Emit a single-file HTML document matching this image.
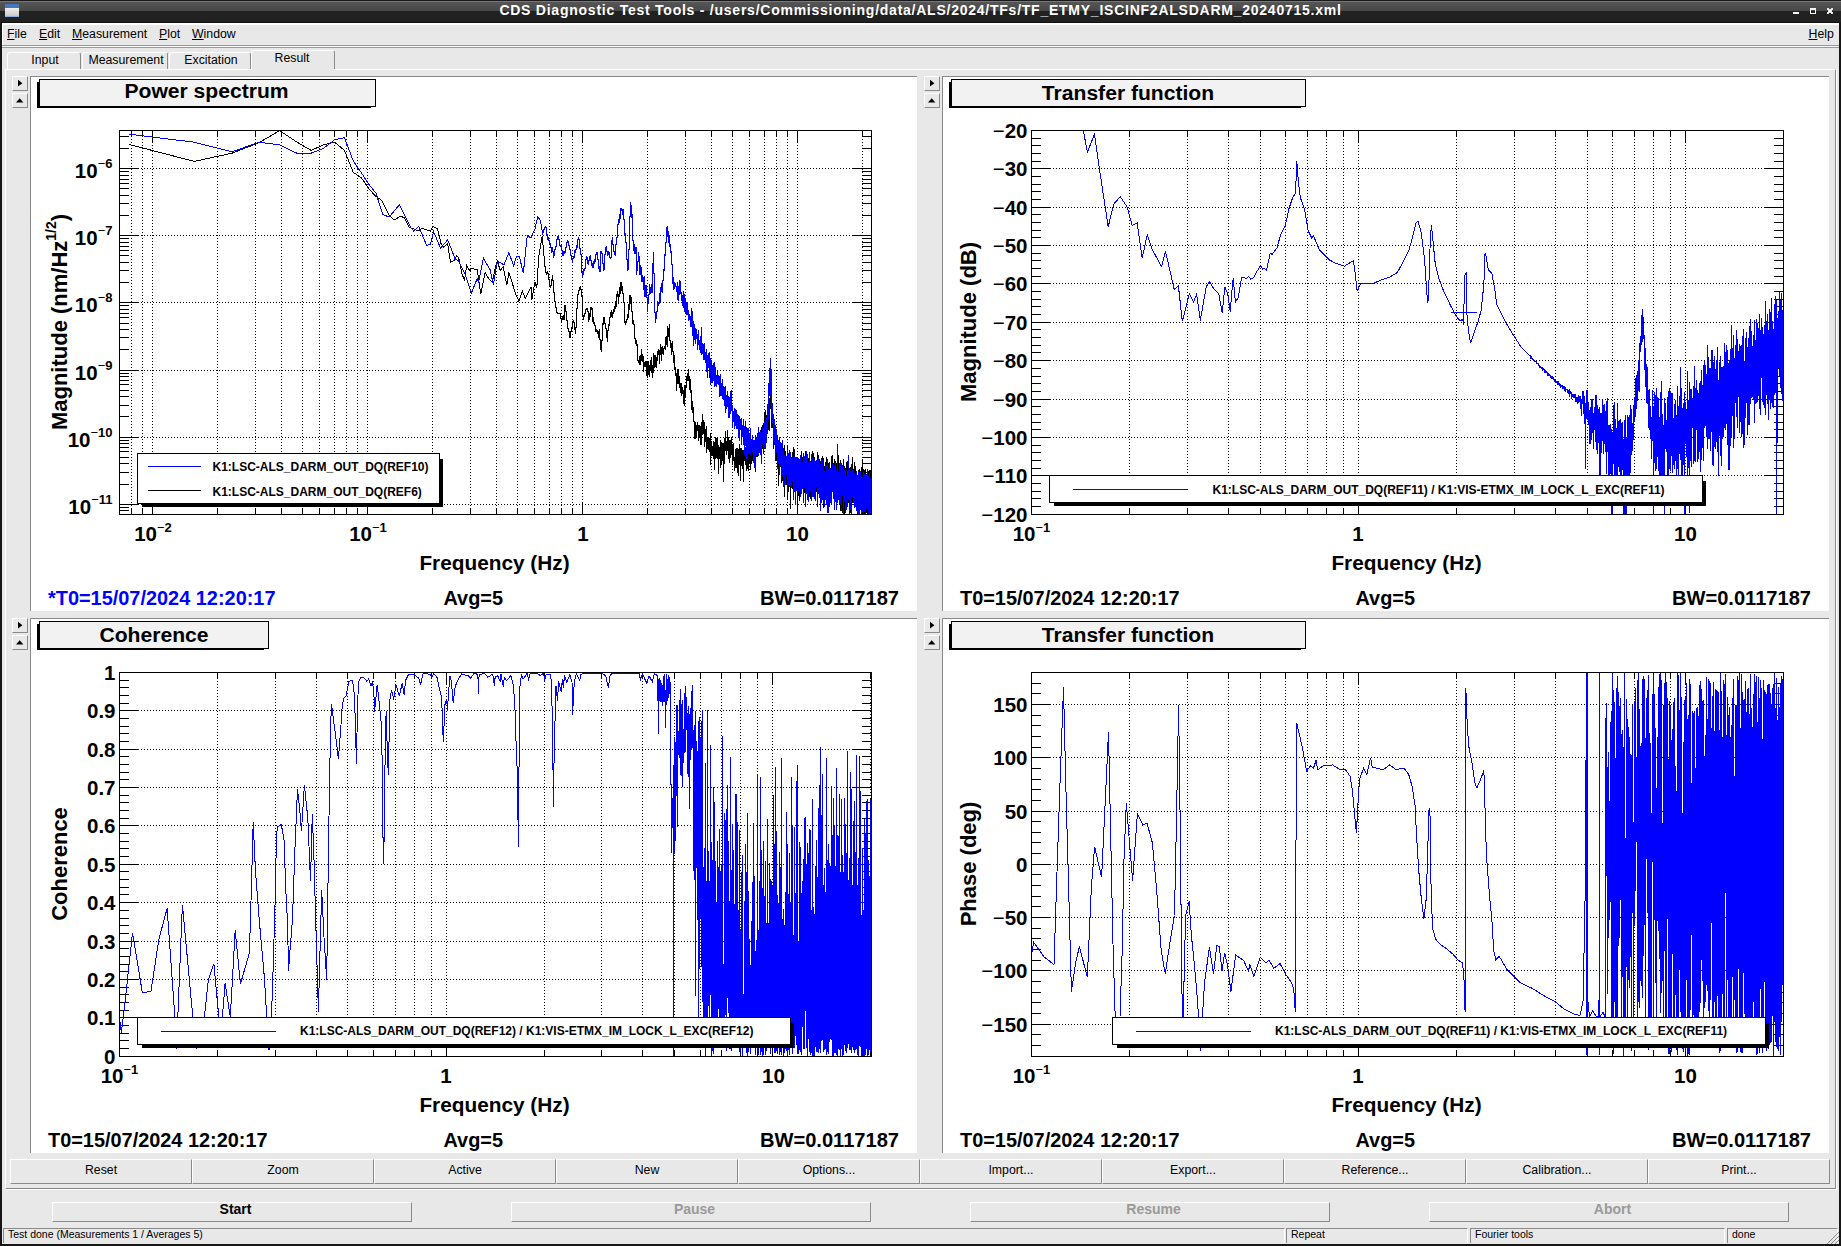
<!DOCTYPE html>
<html><head><meta charset="utf-8"><title>CDS Diagnostic Test Tools</title>
<style>
html,body{margin:0;padding:0;}
body{width:1841px;height:1246px;background:#e8e8e8;position:relative;overflow:hidden;font-family:"Liberation Sans",sans-serif;font-size:12px;color:#000;}
.abs{position:absolute;}
#titlebar{left:0;top:0;width:1841px;height:23px;background:linear-gradient(#1a1a1a 0px,#1a1a1a 1px,#777 1px,#777 2px,#565656 2px,#474747 11px,#212121 11px,#212121 22px,#111 22px,#111 23px);}
#title{left:0;top:2px;width:1841px;text-align:center;color:#fff;font-weight:bold;font-size:14px;letter-spacing:0.757px;white-space:nowrap;}
.menu{top:26.5px;font-size:12.3px;white-space:nowrap;}
.menu u{text-decoration:underline;}
.tab{top:52px;height:17px;font-size:12.3px;text-align:center;line-height:14px;padding-left:2px;border-top:1px solid #fff;border-left:1px solid #fff;border-right:1px solid #8a8a8a;box-sizing:border-box;border-radius:3px 3px 0 0;}
.sbtn{width:16px;height:15px;box-sizing:border-box;border-top:1px solid #fff;border-left:1px solid #fff;border-right:1px solid #8a8a8a;border-bottom:1px solid #8a8a8a;background:#e8e8e8;}
.canvas{background:#fff;border-top:1px solid #8a8a8a;border-left:1px solid #8a8a8a;}
.btn{box-sizing:border-box;border-top:1px solid #fff;border-left:1px solid #fff;border-right:1px solid #8a8a8a;border-bottom:1px solid #8a8a8a;text-align:center;font-size:12.3px;white-space:nowrap;}
.stat{top:1228px;height:15px;box-sizing:border-box;border-top:1px solid #8a8a8a;border-left:1px solid #8a8a8a;border-right:1px solid #fff;font-size:10.5px;line-height:10px;padding-left:4px;white-space:nowrap;}
svg text{font-family:"Liberation Sans",sans-serif;font-weight:bold;}
</style></head><body>

<div class="abs" id="titlebar"></div>
<div class="abs" id="title">CDS Diagnostic Test Tools - /users/Commissioning/data/ALS/2024/TFs/TF_ETMY_ISCINF2ALSDARM_20240715.xml</div>
<div class="abs" style="left:5px;top:4px;width:14px;height:13px;background:linear-gradient(#4577bd 0,#4577bd 4px,#f0f0ee 4px,#c9c9c7 12px,#8fb0e0 12px,#8fb0e0 13px);border:0"></div>
<svg class="abs" style="left:1740px;top:0" width="100" height="22"><g fill="#f4f4f4"><rect x="53" y="12" width="6" height="2"/><path d="M70 8h6v6h-6z M71 10v3h4v-3z" fill-rule="evenodd"/><path d="M87 9l1-1 2 2 2-2 1 1-2 2 2 2-1 1-2-2-2 2-1-1 2-2z" stroke="#f4f4f4" stroke-width="0.8"/></g></svg>
<div class="abs" style="left:2px;top:23px;width:1837px;height:2px;background:#fff"></div>
<div class="abs" style="left:2px;top:23px;width:1px;height:22px;background:#fff"></div>
<div class="abs" style="left:0;top:22px;width:2px;height:1224px;background:#161616"></div>
<div class="abs" style="left:1839px;top:22px;width:2px;height:1224px;background:#161616"></div>
<div class="abs" style="left:0;top:1244px;width:1841px;height:2px;background:#161616"></div>
<div class="abs menu" style="left:7px"><u>F</u>ile</div>
<div class="abs menu" style="left:39px"><u>E</u>dit</div>
<div class="abs menu" style="left:72px"><u>M</u>easurement</div>
<div class="abs menu" style="left:159px"><u>P</u>lot</div>
<div class="abs menu" style="left:192px"><u>W</u>indow</div>
<div class="abs menu" style="left:1808.5px"><u>H</u>elp</div>
<div class="abs" style="left:2px;top:45px;width:1837px;height:1px;background:#999"></div>
<div class="abs" style="left:2px;top:46px;width:1837px;height:1px;background:#f6f6f6"></div>
<div class="abs" style="left:2px;top:47px;width:1837px;height:1px;background:#9a9a9a"></div>
<div class="abs tab" style="left:7px;width:74px">Input</div>
<div class="abs tab" style="left:82px;width:86px">Measurement</div>
<div class="abs tab" style="left:169px;width:82px">Excitation</div>
<div class="abs tab" style="left:251px;width:84px;top:50px;height:20px;line-height:15px;padding-left:0;padding-right:2px">Result</div>
<div class="abs" style="left:5px;top:69px;width:1831px;height:1120px;box-sizing:border-box;border-top:1px solid #fff;border-left:1px solid #fff;border-right:1px solid #8a8a8a;border-bottom:1px solid #8a8a8a"></div>
<div class="abs" style="left:252px;top:69px;width:82px;height:1px;background:#e8e8e8"></div>
<div class="abs" style="left:1836px;top:69px;width:1px;height:1121px;background:#fff"></div>
<div class="abs" style="left:5px;top:1189px;width:1832px;height:1px;background:#fff"></div>
<div class="abs canvas" style="left:30px;top:76px;width:886px;height:534px"></div>
<div class="abs sbtn" style="left:12px;top:76px"><svg width="14" height="13" style="position:absolute;left:0;top:0"><path d="M5 2.8v6.8l4.4-3.4z" fill="#000"/></svg></div>
<div class="abs sbtn" style="left:12px;top:93px"><svg width="14" height="13" style="position:absolute;left:0;top:0"><path d="M3 8.6h7.4l-3.7-4.4z" fill="#000"/></svg></div>
<div class="abs canvas" style="left:942px;top:76px;width:886px;height:534px"></div>
<div class="abs sbtn" style="left:924px;top:76px"><svg width="14" height="13" style="position:absolute;left:0;top:0"><path d="M5 2.8v6.8l4.4-3.4z" fill="#000"/></svg></div>
<div class="abs sbtn" style="left:924px;top:93px"><svg width="14" height="13" style="position:absolute;left:0;top:0"><path d="M3 8.6h7.4l-3.7-4.4z" fill="#000"/></svg></div>
<div class="abs canvas" style="left:30px;top:618px;width:886px;height:534px"></div>
<div class="abs sbtn" style="left:12px;top:618px"><svg width="14" height="13" style="position:absolute;left:0;top:0"><path d="M5 2.8v6.8l4.4-3.4z" fill="#000"/></svg></div>
<div class="abs sbtn" style="left:12px;top:635px"><svg width="14" height="13" style="position:absolute;left:0;top:0"><path d="M3 8.6h7.4l-3.7-4.4z" fill="#000"/></svg></div>
<div class="abs canvas" style="left:942px;top:618px;width:886px;height:534px"></div>
<div class="abs sbtn" style="left:924px;top:618px"><svg width="14" height="13" style="position:absolute;left:0;top:0"><path d="M5 2.8v6.8l4.4-3.4z" fill="#000"/></svg></div>
<div class="abs sbtn" style="left:924px;top:635px"><svg width="14" height="13" style="position:absolute;left:0;top:0"><path d="M3 8.6h7.4l-3.7-4.4z" fill="#000"/></svg></div>
<div class="abs btn" style="left:10px;top:1159px;width:182px;height:25px;line-height:20px">Reset</div>
<div class="abs btn" style="left:192px;top:1159px;width:182px;height:25px;line-height:20px">Zoom</div>
<div class="abs btn" style="left:374px;top:1159px;width:182px;height:25px;line-height:20px">Active</div>
<div class="abs btn" style="left:556px;top:1159px;width:182px;height:25px;line-height:20px">New</div>
<div class="abs btn" style="left:738px;top:1159px;width:182px;height:25px;line-height:20px">Options...</div>
<div class="abs btn" style="left:920px;top:1159px;width:182px;height:25px;line-height:20px">Import...</div>
<div class="abs btn" style="left:1102px;top:1159px;width:182px;height:25px;line-height:20px">Export...</div>
<div class="abs btn" style="left:1284px;top:1159px;width:182px;height:25px;line-height:20px">Reference...</div>
<div class="abs btn" style="left:1466px;top:1159px;width:182px;height:25px;line-height:20px">Calibration...</div>
<div class="abs btn" style="left:1648px;top:1159px;width:182px;height:25px;line-height:20px">Print...</div>
<div class="abs btn" style="left:52px;top:1202px;width:360px;height:20px;line-height:13px;font-weight:bold;font-size:14px;padding-left:7px;color:#000">Start</div>
<div class="abs btn" style="left:511px;top:1202px;width:360px;height:20px;line-height:13px;font-weight:bold;font-size:14px;padding-left:7px;color:#9a9a9a">Pause</div>
<div class="abs btn" style="left:970px;top:1202px;width:360px;height:20px;line-height:13px;font-weight:bold;font-size:14px;padding-left:7px;color:#9a9a9a">Resume</div>
<div class="abs btn" style="left:1429px;top:1202px;width:360px;height:20px;line-height:13px;font-weight:bold;font-size:14px;padding-left:7px;color:#9a9a9a">Abort</div>
<div class="abs stat" style="left:3px;width:1282px">Test done (Measurements 1 / Averages 5)</div>
<div class="abs stat" style="left:1286px;width:182px">Repeat</div>
<div class="abs stat" style="left:1470px;width:255px">Fourier tools</div>
<div class="abs stat" style="left:1727px;width:111px">done</div>
<svg class="abs" style="left:1826px;top:1231px" width="13" height="13"><g stroke="#8a8a8a" stroke-width="1"><path d="M1 13L13 1M5 13L13 5M9 13L13 9"/></g></svg>
<svg class="abs" style="left:0;top:0" width="1841" height="1246" viewBox="0 0 1841 1246">
<line x1="131.5" y1="130" x2="131.5" y2="514" stroke="#000" stroke-width="1" shape-rendering="crispEdges" stroke-dasharray="1 2"/>
<line x1="131.5" y1="508" x2="131.5" y2="514" stroke="#000" stroke-width="1" shape-rendering="crispEdges"/>
<line x1="131.5" y1="130" x2="131.5" y2="137" stroke="#000" stroke-width="1" shape-rendering="crispEdges"/>
<line x1="142.5" y1="130" x2="142.5" y2="514" stroke="#000" stroke-width="1" shape-rendering="crispEdges" stroke-dasharray="1 2"/>
<line x1="142.5" y1="508" x2="142.5" y2="514" stroke="#000" stroke-width="1" shape-rendering="crispEdges"/>
<line x1="142.5" y1="130" x2="142.5" y2="137" stroke="#000" stroke-width="1" shape-rendering="crispEdges"/>
<line x1="152.5" y1="130" x2="152.5" y2="514" stroke="#000" stroke-width="1" shape-rendering="crispEdges" stroke-dasharray="1 2"/>
<line x1="152.5" y1="502" x2="152.5" y2="514" stroke="#000" stroke-width="1" shape-rendering="crispEdges"/>
<line x1="152.5" y1="130" x2="152.5" y2="143" stroke="#000" stroke-width="1" shape-rendering="crispEdges"/>
<line x1="217.5" y1="130" x2="217.5" y2="514" stroke="#000" stroke-width="1" shape-rendering="crispEdges" stroke-dasharray="1 2"/>
<line x1="217.5" y1="508" x2="217.5" y2="514" stroke="#000" stroke-width="1" shape-rendering="crispEdges"/>
<line x1="217.5" y1="130" x2="217.5" y2="137" stroke="#000" stroke-width="1" shape-rendering="crispEdges"/>
<line x1="255.5" y1="130" x2="255.5" y2="514" stroke="#000" stroke-width="1" shape-rendering="crispEdges" stroke-dasharray="1 2"/>
<line x1="255.5" y1="508" x2="255.5" y2="514" stroke="#000" stroke-width="1" shape-rendering="crispEdges"/>
<line x1="255.5" y1="130" x2="255.5" y2="137" stroke="#000" stroke-width="1" shape-rendering="crispEdges"/>
<line x1="281.5" y1="130" x2="281.5" y2="514" stroke="#000" stroke-width="1" shape-rendering="crispEdges" stroke-dasharray="1 2"/>
<line x1="281.5" y1="508" x2="281.5" y2="514" stroke="#000" stroke-width="1" shape-rendering="crispEdges"/>
<line x1="281.5" y1="130" x2="281.5" y2="137" stroke="#000" stroke-width="1" shape-rendering="crispEdges"/>
<line x1="302.5" y1="130" x2="302.5" y2="514" stroke="#000" stroke-width="1" shape-rendering="crispEdges" stroke-dasharray="1 2"/>
<line x1="302.5" y1="508" x2="302.5" y2="514" stroke="#000" stroke-width="1" shape-rendering="crispEdges"/>
<line x1="302.5" y1="130" x2="302.5" y2="137" stroke="#000" stroke-width="1" shape-rendering="crispEdges"/>
<line x1="319.5" y1="130" x2="319.5" y2="514" stroke="#000" stroke-width="1" shape-rendering="crispEdges" stroke-dasharray="1 2"/>
<line x1="319.5" y1="508" x2="319.5" y2="514" stroke="#000" stroke-width="1" shape-rendering="crispEdges"/>
<line x1="319.5" y1="130" x2="319.5" y2="137" stroke="#000" stroke-width="1" shape-rendering="crispEdges"/>
<line x1="334.5" y1="130" x2="334.5" y2="514" stroke="#000" stroke-width="1" shape-rendering="crispEdges" stroke-dasharray="1 2"/>
<line x1="334.5" y1="508" x2="334.5" y2="514" stroke="#000" stroke-width="1" shape-rendering="crispEdges"/>
<line x1="334.5" y1="130" x2="334.5" y2="137" stroke="#000" stroke-width="1" shape-rendering="crispEdges"/>
<line x1="346.5" y1="130" x2="346.5" y2="514" stroke="#000" stroke-width="1" shape-rendering="crispEdges" stroke-dasharray="1 2"/>
<line x1="346.5" y1="508" x2="346.5" y2="514" stroke="#000" stroke-width="1" shape-rendering="crispEdges"/>
<line x1="346.5" y1="130" x2="346.5" y2="137" stroke="#000" stroke-width="1" shape-rendering="crispEdges"/>
<line x1="357.5" y1="130" x2="357.5" y2="514" stroke="#000" stroke-width="1" shape-rendering="crispEdges" stroke-dasharray="1 2"/>
<line x1="357.5" y1="508" x2="357.5" y2="514" stroke="#000" stroke-width="1" shape-rendering="crispEdges"/>
<line x1="357.5" y1="130" x2="357.5" y2="137" stroke="#000" stroke-width="1" shape-rendering="crispEdges"/>
<line x1="367.5" y1="130" x2="367.5" y2="514" stroke="#000" stroke-width="1" shape-rendering="crispEdges" stroke-dasharray="1 2"/>
<line x1="367.5" y1="502" x2="367.5" y2="514" stroke="#000" stroke-width="1" shape-rendering="crispEdges"/>
<line x1="367.5" y1="130" x2="367.5" y2="143" stroke="#000" stroke-width="1" shape-rendering="crispEdges"/>
<line x1="432.5" y1="130" x2="432.5" y2="514" stroke="#000" stroke-width="1" shape-rendering="crispEdges" stroke-dasharray="1 2"/>
<line x1="432.5" y1="508" x2="432.5" y2="514" stroke="#000" stroke-width="1" shape-rendering="crispEdges"/>
<line x1="432.5" y1="130" x2="432.5" y2="137" stroke="#000" stroke-width="1" shape-rendering="crispEdges"/>
<line x1="470.5" y1="130" x2="470.5" y2="514" stroke="#000" stroke-width="1" shape-rendering="crispEdges" stroke-dasharray="1 2"/>
<line x1="470.5" y1="508" x2="470.5" y2="514" stroke="#000" stroke-width="1" shape-rendering="crispEdges"/>
<line x1="470.5" y1="130" x2="470.5" y2="137" stroke="#000" stroke-width="1" shape-rendering="crispEdges"/>
<line x1="496.5" y1="130" x2="496.5" y2="514" stroke="#000" stroke-width="1" shape-rendering="crispEdges" stroke-dasharray="1 2"/>
<line x1="496.5" y1="508" x2="496.5" y2="514" stroke="#000" stroke-width="1" shape-rendering="crispEdges"/>
<line x1="496.5" y1="130" x2="496.5" y2="137" stroke="#000" stroke-width="1" shape-rendering="crispEdges"/>
<line x1="517.5" y1="130" x2="517.5" y2="514" stroke="#000" stroke-width="1" shape-rendering="crispEdges" stroke-dasharray="1 2"/>
<line x1="517.5" y1="508" x2="517.5" y2="514" stroke="#000" stroke-width="1" shape-rendering="crispEdges"/>
<line x1="517.5" y1="130" x2="517.5" y2="137" stroke="#000" stroke-width="1" shape-rendering="crispEdges"/>
<line x1="534.5" y1="130" x2="534.5" y2="514" stroke="#000" stroke-width="1" shape-rendering="crispEdges" stroke-dasharray="1 2"/>
<line x1="534.5" y1="508" x2="534.5" y2="514" stroke="#000" stroke-width="1" shape-rendering="crispEdges"/>
<line x1="534.5" y1="130" x2="534.5" y2="137" stroke="#000" stroke-width="1" shape-rendering="crispEdges"/>
<line x1="549.5" y1="130" x2="549.5" y2="514" stroke="#000" stroke-width="1" shape-rendering="crispEdges" stroke-dasharray="1 2"/>
<line x1="549.5" y1="508" x2="549.5" y2="514" stroke="#000" stroke-width="1" shape-rendering="crispEdges"/>
<line x1="549.5" y1="130" x2="549.5" y2="137" stroke="#000" stroke-width="1" shape-rendering="crispEdges"/>
<line x1="561.5" y1="130" x2="561.5" y2="514" stroke="#000" stroke-width="1" shape-rendering="crispEdges" stroke-dasharray="1 2"/>
<line x1="561.5" y1="508" x2="561.5" y2="514" stroke="#000" stroke-width="1" shape-rendering="crispEdges"/>
<line x1="561.5" y1="130" x2="561.5" y2="137" stroke="#000" stroke-width="1" shape-rendering="crispEdges"/>
<line x1="572.5" y1="130" x2="572.5" y2="514" stroke="#000" stroke-width="1" shape-rendering="crispEdges" stroke-dasharray="1 2"/>
<line x1="572.5" y1="508" x2="572.5" y2="514" stroke="#000" stroke-width="1" shape-rendering="crispEdges"/>
<line x1="572.5" y1="130" x2="572.5" y2="137" stroke="#000" stroke-width="1" shape-rendering="crispEdges"/>
<line x1="582.5" y1="130" x2="582.5" y2="514" stroke="#000" stroke-width="1" shape-rendering="crispEdges" stroke-dasharray="1 2"/>
<line x1="582.5" y1="502" x2="582.5" y2="514" stroke="#000" stroke-width="1" shape-rendering="crispEdges"/>
<line x1="582.5" y1="130" x2="582.5" y2="143" stroke="#000" stroke-width="1" shape-rendering="crispEdges"/>
<line x1="647.5" y1="130" x2="647.5" y2="514" stroke="#000" stroke-width="1" shape-rendering="crispEdges" stroke-dasharray="1 2"/>
<line x1="647.5" y1="508" x2="647.5" y2="514" stroke="#000" stroke-width="1" shape-rendering="crispEdges"/>
<line x1="647.5" y1="130" x2="647.5" y2="137" stroke="#000" stroke-width="1" shape-rendering="crispEdges"/>
<line x1="685.5" y1="130" x2="685.5" y2="514" stroke="#000" stroke-width="1" shape-rendering="crispEdges" stroke-dasharray="1 2"/>
<line x1="685.5" y1="508" x2="685.5" y2="514" stroke="#000" stroke-width="1" shape-rendering="crispEdges"/>
<line x1="685.5" y1="130" x2="685.5" y2="137" stroke="#000" stroke-width="1" shape-rendering="crispEdges"/>
<line x1="711.5" y1="130" x2="711.5" y2="514" stroke="#000" stroke-width="1" shape-rendering="crispEdges" stroke-dasharray="1 2"/>
<line x1="711.5" y1="508" x2="711.5" y2="514" stroke="#000" stroke-width="1" shape-rendering="crispEdges"/>
<line x1="711.5" y1="130" x2="711.5" y2="137" stroke="#000" stroke-width="1" shape-rendering="crispEdges"/>
<line x1="732.5" y1="130" x2="732.5" y2="514" stroke="#000" stroke-width="1" shape-rendering="crispEdges" stroke-dasharray="1 2"/>
<line x1="732.5" y1="508" x2="732.5" y2="514" stroke="#000" stroke-width="1" shape-rendering="crispEdges"/>
<line x1="732.5" y1="130" x2="732.5" y2="137" stroke="#000" stroke-width="1" shape-rendering="crispEdges"/>
<line x1="749.5" y1="130" x2="749.5" y2="514" stroke="#000" stroke-width="1" shape-rendering="crispEdges" stroke-dasharray="1 2"/>
<line x1="749.5" y1="508" x2="749.5" y2="514" stroke="#000" stroke-width="1" shape-rendering="crispEdges"/>
<line x1="749.5" y1="130" x2="749.5" y2="137" stroke="#000" stroke-width="1" shape-rendering="crispEdges"/>
<line x1="764.5" y1="130" x2="764.5" y2="514" stroke="#000" stroke-width="1" shape-rendering="crispEdges" stroke-dasharray="1 2"/>
<line x1="764.5" y1="508" x2="764.5" y2="514" stroke="#000" stroke-width="1" shape-rendering="crispEdges"/>
<line x1="764.5" y1="130" x2="764.5" y2="137" stroke="#000" stroke-width="1" shape-rendering="crispEdges"/>
<line x1="776.5" y1="130" x2="776.5" y2="514" stroke="#000" stroke-width="1" shape-rendering="crispEdges" stroke-dasharray="1 2"/>
<line x1="776.5" y1="508" x2="776.5" y2="514" stroke="#000" stroke-width="1" shape-rendering="crispEdges"/>
<line x1="776.5" y1="130" x2="776.5" y2="137" stroke="#000" stroke-width="1" shape-rendering="crispEdges"/>
<line x1="787.5" y1="130" x2="787.5" y2="514" stroke="#000" stroke-width="1" shape-rendering="crispEdges" stroke-dasharray="1 2"/>
<line x1="787.5" y1="508" x2="787.5" y2="514" stroke="#000" stroke-width="1" shape-rendering="crispEdges"/>
<line x1="787.5" y1="130" x2="787.5" y2="137" stroke="#000" stroke-width="1" shape-rendering="crispEdges"/>
<line x1="797.5" y1="130" x2="797.5" y2="514" stroke="#000" stroke-width="1" shape-rendering="crispEdges" stroke-dasharray="1 2"/>
<line x1="797.5" y1="502" x2="797.5" y2="514" stroke="#000" stroke-width="1" shape-rendering="crispEdges"/>
<line x1="797.5" y1="130" x2="797.5" y2="143" stroke="#000" stroke-width="1" shape-rendering="crispEdges"/>
<line x1="862.5" y1="130" x2="862.5" y2="514" stroke="#000" stroke-width="1" shape-rendering="crispEdges" stroke-dasharray="1 2"/>
<line x1="862.5" y1="508" x2="862.5" y2="514" stroke="#000" stroke-width="1" shape-rendering="crispEdges"/>
<line x1="862.5" y1="130" x2="862.5" y2="137" stroke="#000" stroke-width="1" shape-rendering="crispEdges"/>
<line x1="119" y1="510.5" x2="129" y2="510.5" stroke="#000" stroke-width="1" shape-rendering="crispEdges"/>
<line x1="862" y1="510.5" x2="871" y2="510.5" stroke="#000" stroke-width="1" shape-rendering="crispEdges"/>
<line x1="119" y1="507.5" x2="129" y2="507.5" stroke="#000" stroke-width="1" shape-rendering="crispEdges"/>
<line x1="862" y1="507.5" x2="871" y2="507.5" stroke="#000" stroke-width="1" shape-rendering="crispEdges"/>
<line x1="120" y1="504.5" x2="871" y2="504.5" stroke="#000" stroke-width="1" shape-rendering="crispEdges" stroke-dasharray="1 2"/>
<line x1="119" y1="504.5" x2="139" y2="504.5" stroke="#000" stroke-width="1" shape-rendering="crispEdges"/>
<line x1="852" y1="504.5" x2="871" y2="504.5" stroke="#000" stroke-width="1" shape-rendering="crispEdges"/>
<line x1="119" y1="484.5" x2="129" y2="484.5" stroke="#000" stroke-width="1" shape-rendering="crispEdges"/>
<line x1="862" y1="484.5" x2="871" y2="484.5" stroke="#000" stroke-width="1" shape-rendering="crispEdges"/>
<line x1="119" y1="472.5" x2="129" y2="472.5" stroke="#000" stroke-width="1" shape-rendering="crispEdges"/>
<line x1="862" y1="472.5" x2="871" y2="472.5" stroke="#000" stroke-width="1" shape-rendering="crispEdges"/>
<line x1="119" y1="463.5" x2="129" y2="463.5" stroke="#000" stroke-width="1" shape-rendering="crispEdges"/>
<line x1="862" y1="463.5" x2="871" y2="463.5" stroke="#000" stroke-width="1" shape-rendering="crispEdges"/>
<line x1="119" y1="457.5" x2="129" y2="457.5" stroke="#000" stroke-width="1" shape-rendering="crispEdges"/>
<line x1="862" y1="457.5" x2="871" y2="457.5" stroke="#000" stroke-width="1" shape-rendering="crispEdges"/>
<line x1="119" y1="451.5" x2="129" y2="451.5" stroke="#000" stroke-width="1" shape-rendering="crispEdges"/>
<line x1="862" y1="451.5" x2="871" y2="451.5" stroke="#000" stroke-width="1" shape-rendering="crispEdges"/>
<line x1="119" y1="447.5" x2="129" y2="447.5" stroke="#000" stroke-width="1" shape-rendering="crispEdges"/>
<line x1="862" y1="447.5" x2="871" y2="447.5" stroke="#000" stroke-width="1" shape-rendering="crispEdges"/>
<line x1="119" y1="443.5" x2="129" y2="443.5" stroke="#000" stroke-width="1" shape-rendering="crispEdges"/>
<line x1="862" y1="443.5" x2="871" y2="443.5" stroke="#000" stroke-width="1" shape-rendering="crispEdges"/>
<line x1="119" y1="440.5" x2="129" y2="440.5" stroke="#000" stroke-width="1" shape-rendering="crispEdges"/>
<line x1="862" y1="440.5" x2="871" y2="440.5" stroke="#000" stroke-width="1" shape-rendering="crispEdges"/>
<line x1="120" y1="437.5" x2="871" y2="437.5" stroke="#000" stroke-width="1" shape-rendering="crispEdges" stroke-dasharray="1 2"/>
<line x1="119" y1="437.5" x2="139" y2="437.5" stroke="#000" stroke-width="1" shape-rendering="crispEdges"/>
<line x1="852" y1="437.5" x2="871" y2="437.5" stroke="#000" stroke-width="1" shape-rendering="crispEdges"/>
<line x1="119" y1="416.5" x2="129" y2="416.5" stroke="#000" stroke-width="1" shape-rendering="crispEdges"/>
<line x1="862" y1="416.5" x2="871" y2="416.5" stroke="#000" stroke-width="1" shape-rendering="crispEdges"/>
<line x1="119" y1="405.5" x2="129" y2="405.5" stroke="#000" stroke-width="1" shape-rendering="crispEdges"/>
<line x1="862" y1="405.5" x2="871" y2="405.5" stroke="#000" stroke-width="1" shape-rendering="crispEdges"/>
<line x1="119" y1="396.5" x2="129" y2="396.5" stroke="#000" stroke-width="1" shape-rendering="crispEdges"/>
<line x1="862" y1="396.5" x2="871" y2="396.5" stroke="#000" stroke-width="1" shape-rendering="crispEdges"/>
<line x1="119" y1="390.5" x2="129" y2="390.5" stroke="#000" stroke-width="1" shape-rendering="crispEdges"/>
<line x1="862" y1="390.5" x2="871" y2="390.5" stroke="#000" stroke-width="1" shape-rendering="crispEdges"/>
<line x1="119" y1="384.5" x2="129" y2="384.5" stroke="#000" stroke-width="1" shape-rendering="crispEdges"/>
<line x1="862" y1="384.5" x2="871" y2="384.5" stroke="#000" stroke-width="1" shape-rendering="crispEdges"/>
<line x1="119" y1="380.5" x2="129" y2="380.5" stroke="#000" stroke-width="1" shape-rendering="crispEdges"/>
<line x1="862" y1="380.5" x2="871" y2="380.5" stroke="#000" stroke-width="1" shape-rendering="crispEdges"/>
<line x1="119" y1="376.5" x2="129" y2="376.5" stroke="#000" stroke-width="1" shape-rendering="crispEdges"/>
<line x1="862" y1="376.5" x2="871" y2="376.5" stroke="#000" stroke-width="1" shape-rendering="crispEdges"/>
<line x1="119" y1="373.5" x2="129" y2="373.5" stroke="#000" stroke-width="1" shape-rendering="crispEdges"/>
<line x1="862" y1="373.5" x2="871" y2="373.5" stroke="#000" stroke-width="1" shape-rendering="crispEdges"/>
<line x1="120" y1="370.5" x2="871" y2="370.5" stroke="#000" stroke-width="1" shape-rendering="crispEdges" stroke-dasharray="1 2"/>
<line x1="119" y1="370.5" x2="139" y2="370.5" stroke="#000" stroke-width="1" shape-rendering="crispEdges"/>
<line x1="852" y1="370.5" x2="871" y2="370.5" stroke="#000" stroke-width="1" shape-rendering="crispEdges"/>
<line x1="119" y1="349.5" x2="129" y2="349.5" stroke="#000" stroke-width="1" shape-rendering="crispEdges"/>
<line x1="862" y1="349.5" x2="871" y2="349.5" stroke="#000" stroke-width="1" shape-rendering="crispEdges"/>
<line x1="119" y1="337.5" x2="129" y2="337.5" stroke="#000" stroke-width="1" shape-rendering="crispEdges"/>
<line x1="862" y1="337.5" x2="871" y2="337.5" stroke="#000" stroke-width="1" shape-rendering="crispEdges"/>
<line x1="119" y1="329.5" x2="129" y2="329.5" stroke="#000" stroke-width="1" shape-rendering="crispEdges"/>
<line x1="862" y1="329.5" x2="871" y2="329.5" stroke="#000" stroke-width="1" shape-rendering="crispEdges"/>
<line x1="119" y1="323.5" x2="129" y2="323.5" stroke="#000" stroke-width="1" shape-rendering="crispEdges"/>
<line x1="862" y1="323.5" x2="871" y2="323.5" stroke="#000" stroke-width="1" shape-rendering="crispEdges"/>
<line x1="119" y1="317.5" x2="129" y2="317.5" stroke="#000" stroke-width="1" shape-rendering="crispEdges"/>
<line x1="862" y1="317.5" x2="871" y2="317.5" stroke="#000" stroke-width="1" shape-rendering="crispEdges"/>
<line x1="119" y1="313.5" x2="129" y2="313.5" stroke="#000" stroke-width="1" shape-rendering="crispEdges"/>
<line x1="862" y1="313.5" x2="871" y2="313.5" stroke="#000" stroke-width="1" shape-rendering="crispEdges"/>
<line x1="119" y1="309.5" x2="129" y2="309.5" stroke="#000" stroke-width="1" shape-rendering="crispEdges"/>
<line x1="862" y1="309.5" x2="871" y2="309.5" stroke="#000" stroke-width="1" shape-rendering="crispEdges"/>
<line x1="119" y1="305.5" x2="129" y2="305.5" stroke="#000" stroke-width="1" shape-rendering="crispEdges"/>
<line x1="862" y1="305.5" x2="871" y2="305.5" stroke="#000" stroke-width="1" shape-rendering="crispEdges"/>
<line x1="120" y1="302.5" x2="871" y2="302.5" stroke="#000" stroke-width="1" shape-rendering="crispEdges" stroke-dasharray="1 2"/>
<line x1="119" y1="302.5" x2="139" y2="302.5" stroke="#000" stroke-width="1" shape-rendering="crispEdges"/>
<line x1="852" y1="302.5" x2="871" y2="302.5" stroke="#000" stroke-width="1" shape-rendering="crispEdges"/>
<line x1="119" y1="282.5" x2="129" y2="282.5" stroke="#000" stroke-width="1" shape-rendering="crispEdges"/>
<line x1="862" y1="282.5" x2="871" y2="282.5" stroke="#000" stroke-width="1" shape-rendering="crispEdges"/>
<line x1="119" y1="270.5" x2="129" y2="270.5" stroke="#000" stroke-width="1" shape-rendering="crispEdges"/>
<line x1="862" y1="270.5" x2="871" y2="270.5" stroke="#000" stroke-width="1" shape-rendering="crispEdges"/>
<line x1="119" y1="262.5" x2="129" y2="262.5" stroke="#000" stroke-width="1" shape-rendering="crispEdges"/>
<line x1="862" y1="262.5" x2="871" y2="262.5" stroke="#000" stroke-width="1" shape-rendering="crispEdges"/>
<line x1="119" y1="255.5" x2="129" y2="255.5" stroke="#000" stroke-width="1" shape-rendering="crispEdges"/>
<line x1="862" y1="255.5" x2="871" y2="255.5" stroke="#000" stroke-width="1" shape-rendering="crispEdges"/>
<line x1="119" y1="250.5" x2="129" y2="250.5" stroke="#000" stroke-width="1" shape-rendering="crispEdges"/>
<line x1="862" y1="250.5" x2="871" y2="250.5" stroke="#000" stroke-width="1" shape-rendering="crispEdges"/>
<line x1="119" y1="246.5" x2="129" y2="246.5" stroke="#000" stroke-width="1" shape-rendering="crispEdges"/>
<line x1="862" y1="246.5" x2="871" y2="246.5" stroke="#000" stroke-width="1" shape-rendering="crispEdges"/>
<line x1="119" y1="242.5" x2="129" y2="242.5" stroke="#000" stroke-width="1" shape-rendering="crispEdges"/>
<line x1="862" y1="242.5" x2="871" y2="242.5" stroke="#000" stroke-width="1" shape-rendering="crispEdges"/>
<line x1="119" y1="238.5" x2="129" y2="238.5" stroke="#000" stroke-width="1" shape-rendering="crispEdges"/>
<line x1="862" y1="238.5" x2="871" y2="238.5" stroke="#000" stroke-width="1" shape-rendering="crispEdges"/>
<line x1="120" y1="235.5" x2="871" y2="235.5" stroke="#000" stroke-width="1" shape-rendering="crispEdges" stroke-dasharray="1 2"/>
<line x1="119" y1="235.5" x2="139" y2="235.5" stroke="#000" stroke-width="1" shape-rendering="crispEdges"/>
<line x1="852" y1="235.5" x2="871" y2="235.5" stroke="#000" stroke-width="1" shape-rendering="crispEdges"/>
<line x1="119" y1="215.5" x2="129" y2="215.5" stroke="#000" stroke-width="1" shape-rendering="crispEdges"/>
<line x1="862" y1="215.5" x2="871" y2="215.5" stroke="#000" stroke-width="1" shape-rendering="crispEdges"/>
<line x1="119" y1="203.5" x2="129" y2="203.5" stroke="#000" stroke-width="1" shape-rendering="crispEdges"/>
<line x1="862" y1="203.5" x2="871" y2="203.5" stroke="#000" stroke-width="1" shape-rendering="crispEdges"/>
<line x1="119" y1="195.5" x2="129" y2="195.5" stroke="#000" stroke-width="1" shape-rendering="crispEdges"/>
<line x1="862" y1="195.5" x2="871" y2="195.5" stroke="#000" stroke-width="1" shape-rendering="crispEdges"/>
<line x1="119" y1="188.5" x2="129" y2="188.5" stroke="#000" stroke-width="1" shape-rendering="crispEdges"/>
<line x1="862" y1="188.5" x2="871" y2="188.5" stroke="#000" stroke-width="1" shape-rendering="crispEdges"/>
<line x1="119" y1="183.5" x2="129" y2="183.5" stroke="#000" stroke-width="1" shape-rendering="crispEdges"/>
<line x1="862" y1="183.5" x2="871" y2="183.5" stroke="#000" stroke-width="1" shape-rendering="crispEdges"/>
<line x1="119" y1="179.5" x2="129" y2="179.5" stroke="#000" stroke-width="1" shape-rendering="crispEdges"/>
<line x1="862" y1="179.5" x2="871" y2="179.5" stroke="#000" stroke-width="1" shape-rendering="crispEdges"/>
<line x1="119" y1="175.5" x2="129" y2="175.5" stroke="#000" stroke-width="1" shape-rendering="crispEdges"/>
<line x1="862" y1="175.5" x2="871" y2="175.5" stroke="#000" stroke-width="1" shape-rendering="crispEdges"/>
<line x1="119" y1="171.5" x2="129" y2="171.5" stroke="#000" stroke-width="1" shape-rendering="crispEdges"/>
<line x1="862" y1="171.5" x2="871" y2="171.5" stroke="#000" stroke-width="1" shape-rendering="crispEdges"/>
<line x1="120" y1="168.5" x2="871" y2="168.5" stroke="#000" stroke-width="1" shape-rendering="crispEdges" stroke-dasharray="1 2"/>
<line x1="119" y1="168.5" x2="139" y2="168.5" stroke="#000" stroke-width="1" shape-rendering="crispEdges"/>
<line x1="852" y1="168.5" x2="871" y2="168.5" stroke="#000" stroke-width="1" shape-rendering="crispEdges"/>
<line x1="119" y1="148.5" x2="129" y2="148.5" stroke="#000" stroke-width="1" shape-rendering="crispEdges"/>
<line x1="862" y1="148.5" x2="871" y2="148.5" stroke="#000" stroke-width="1" shape-rendering="crispEdges"/>
<line x1="119" y1="136.5" x2="129" y2="136.5" stroke="#000" stroke-width="1" shape-rendering="crispEdges"/>
<line x1="862" y1="136.5" x2="871" y2="136.5" stroke="#000" stroke-width="1" shape-rendering="crispEdges"/>
<line x1="1129.5" y1="130" x2="1129.5" y2="514" stroke="#000" stroke-width="1" shape-rendering="crispEdges" stroke-dasharray="1 2"/>
<line x1="1129.5" y1="508" x2="1129.5" y2="514" stroke="#000" stroke-width="1" shape-rendering="crispEdges"/>
<line x1="1129.5" y1="130" x2="1129.5" y2="137" stroke="#000" stroke-width="1" shape-rendering="crispEdges"/>
<line x1="1187.5" y1="130" x2="1187.5" y2="514" stroke="#000" stroke-width="1" shape-rendering="crispEdges" stroke-dasharray="1 2"/>
<line x1="1187.5" y1="508" x2="1187.5" y2="514" stroke="#000" stroke-width="1" shape-rendering="crispEdges"/>
<line x1="1187.5" y1="130" x2="1187.5" y2="137" stroke="#000" stroke-width="1" shape-rendering="crispEdges"/>
<line x1="1228.5" y1="130" x2="1228.5" y2="514" stroke="#000" stroke-width="1" shape-rendering="crispEdges" stroke-dasharray="1 2"/>
<line x1="1228.5" y1="508" x2="1228.5" y2="514" stroke="#000" stroke-width="1" shape-rendering="crispEdges"/>
<line x1="1228.5" y1="130" x2="1228.5" y2="137" stroke="#000" stroke-width="1" shape-rendering="crispEdges"/>
<line x1="1260.5" y1="130" x2="1260.5" y2="514" stroke="#000" stroke-width="1" shape-rendering="crispEdges" stroke-dasharray="1 2"/>
<line x1="1260.5" y1="508" x2="1260.5" y2="514" stroke="#000" stroke-width="1" shape-rendering="crispEdges"/>
<line x1="1260.5" y1="130" x2="1260.5" y2="137" stroke="#000" stroke-width="1" shape-rendering="crispEdges"/>
<line x1="1285.5" y1="130" x2="1285.5" y2="514" stroke="#000" stroke-width="1" shape-rendering="crispEdges" stroke-dasharray="1 2"/>
<line x1="1285.5" y1="508" x2="1285.5" y2="514" stroke="#000" stroke-width="1" shape-rendering="crispEdges"/>
<line x1="1285.5" y1="130" x2="1285.5" y2="137" stroke="#000" stroke-width="1" shape-rendering="crispEdges"/>
<line x1="1307.5" y1="130" x2="1307.5" y2="514" stroke="#000" stroke-width="1" shape-rendering="crispEdges" stroke-dasharray="1 2"/>
<line x1="1307.5" y1="508" x2="1307.5" y2="514" stroke="#000" stroke-width="1" shape-rendering="crispEdges"/>
<line x1="1307.5" y1="130" x2="1307.5" y2="137" stroke="#000" stroke-width="1" shape-rendering="crispEdges"/>
<line x1="1326.5" y1="130" x2="1326.5" y2="514" stroke="#000" stroke-width="1" shape-rendering="crispEdges" stroke-dasharray="1 2"/>
<line x1="1326.5" y1="508" x2="1326.5" y2="514" stroke="#000" stroke-width="1" shape-rendering="crispEdges"/>
<line x1="1326.5" y1="130" x2="1326.5" y2="137" stroke="#000" stroke-width="1" shape-rendering="crispEdges"/>
<line x1="1343.5" y1="130" x2="1343.5" y2="514" stroke="#000" stroke-width="1" shape-rendering="crispEdges" stroke-dasharray="1 2"/>
<line x1="1343.5" y1="508" x2="1343.5" y2="514" stroke="#000" stroke-width="1" shape-rendering="crispEdges"/>
<line x1="1343.5" y1="130" x2="1343.5" y2="137" stroke="#000" stroke-width="1" shape-rendering="crispEdges"/>
<line x1="1358.5" y1="130" x2="1358.5" y2="514" stroke="#000" stroke-width="1" shape-rendering="crispEdges" stroke-dasharray="1 2"/>
<line x1="1358.5" y1="502" x2="1358.5" y2="514" stroke="#000" stroke-width="1" shape-rendering="crispEdges"/>
<line x1="1358.5" y1="130" x2="1358.5" y2="143" stroke="#000" stroke-width="1" shape-rendering="crispEdges"/>
<line x1="1456.5" y1="130" x2="1456.5" y2="514" stroke="#000" stroke-width="1" shape-rendering="crispEdges" stroke-dasharray="1 2"/>
<line x1="1456.5" y1="508" x2="1456.5" y2="514" stroke="#000" stroke-width="1" shape-rendering="crispEdges"/>
<line x1="1456.5" y1="130" x2="1456.5" y2="137" stroke="#000" stroke-width="1" shape-rendering="crispEdges"/>
<line x1="1514.5" y1="130" x2="1514.5" y2="514" stroke="#000" stroke-width="1" shape-rendering="crispEdges" stroke-dasharray="1 2"/>
<line x1="1514.5" y1="508" x2="1514.5" y2="514" stroke="#000" stroke-width="1" shape-rendering="crispEdges"/>
<line x1="1514.5" y1="130" x2="1514.5" y2="137" stroke="#000" stroke-width="1" shape-rendering="crispEdges"/>
<line x1="1555.5" y1="130" x2="1555.5" y2="514" stroke="#000" stroke-width="1" shape-rendering="crispEdges" stroke-dasharray="1 2"/>
<line x1="1555.5" y1="508" x2="1555.5" y2="514" stroke="#000" stroke-width="1" shape-rendering="crispEdges"/>
<line x1="1555.5" y1="130" x2="1555.5" y2="137" stroke="#000" stroke-width="1" shape-rendering="crispEdges"/>
<line x1="1587.5" y1="130" x2="1587.5" y2="514" stroke="#000" stroke-width="1" shape-rendering="crispEdges" stroke-dasharray="1 2"/>
<line x1="1587.5" y1="508" x2="1587.5" y2="514" stroke="#000" stroke-width="1" shape-rendering="crispEdges"/>
<line x1="1587.5" y1="130" x2="1587.5" y2="137" stroke="#000" stroke-width="1" shape-rendering="crispEdges"/>
<line x1="1612.5" y1="130" x2="1612.5" y2="514" stroke="#000" stroke-width="1" shape-rendering="crispEdges" stroke-dasharray="1 2"/>
<line x1="1612.5" y1="508" x2="1612.5" y2="514" stroke="#000" stroke-width="1" shape-rendering="crispEdges"/>
<line x1="1612.5" y1="130" x2="1612.5" y2="137" stroke="#000" stroke-width="1" shape-rendering="crispEdges"/>
<line x1="1634.5" y1="130" x2="1634.5" y2="514" stroke="#000" stroke-width="1" shape-rendering="crispEdges" stroke-dasharray="1 2"/>
<line x1="1634.5" y1="508" x2="1634.5" y2="514" stroke="#000" stroke-width="1" shape-rendering="crispEdges"/>
<line x1="1634.5" y1="130" x2="1634.5" y2="137" stroke="#000" stroke-width="1" shape-rendering="crispEdges"/>
<line x1="1653.5" y1="130" x2="1653.5" y2="514" stroke="#000" stroke-width="1" shape-rendering="crispEdges" stroke-dasharray="1 2"/>
<line x1="1653.5" y1="508" x2="1653.5" y2="514" stroke="#000" stroke-width="1" shape-rendering="crispEdges"/>
<line x1="1653.5" y1="130" x2="1653.5" y2="137" stroke="#000" stroke-width="1" shape-rendering="crispEdges"/>
<line x1="1670.5" y1="130" x2="1670.5" y2="514" stroke="#000" stroke-width="1" shape-rendering="crispEdges" stroke-dasharray="1 2"/>
<line x1="1670.5" y1="508" x2="1670.5" y2="514" stroke="#000" stroke-width="1" shape-rendering="crispEdges"/>
<line x1="1670.5" y1="130" x2="1670.5" y2="137" stroke="#000" stroke-width="1" shape-rendering="crispEdges"/>
<line x1="1685.5" y1="130" x2="1685.5" y2="514" stroke="#000" stroke-width="1" shape-rendering="crispEdges" stroke-dasharray="1 2"/>
<line x1="1685.5" y1="502" x2="1685.5" y2="514" stroke="#000" stroke-width="1" shape-rendering="crispEdges"/>
<line x1="1685.5" y1="130" x2="1685.5" y2="143" stroke="#000" stroke-width="1" shape-rendering="crispEdges"/>
<line x1="1031" y1="138.5" x2="1041" y2="138.5" stroke="#000" stroke-width="1" shape-rendering="crispEdges"/>
<line x1="1774" y1="138.5" x2="1783" y2="138.5" stroke="#000" stroke-width="1" shape-rendering="crispEdges"/>
<line x1="1031" y1="145.5" x2="1041" y2="145.5" stroke="#000" stroke-width="1" shape-rendering="crispEdges"/>
<line x1="1774" y1="145.5" x2="1783" y2="145.5" stroke="#000" stroke-width="1" shape-rendering="crispEdges"/>
<line x1="1031" y1="153.5" x2="1041" y2="153.5" stroke="#000" stroke-width="1" shape-rendering="crispEdges"/>
<line x1="1774" y1="153.5" x2="1783" y2="153.5" stroke="#000" stroke-width="1" shape-rendering="crispEdges"/>
<line x1="1031" y1="161.5" x2="1041" y2="161.5" stroke="#000" stroke-width="1" shape-rendering="crispEdges"/>
<line x1="1774" y1="161.5" x2="1783" y2="161.5" stroke="#000" stroke-width="1" shape-rendering="crispEdges"/>
<line x1="1032" y1="168.5" x2="1783" y2="168.5" stroke="#000" stroke-width="1" shape-rendering="crispEdges" stroke-dasharray="1 2"/>
<line x1="1031" y1="168.5" x2="1051" y2="168.5" stroke="#000" stroke-width="1" shape-rendering="crispEdges"/>
<line x1="1764" y1="168.5" x2="1783" y2="168.5" stroke="#000" stroke-width="1" shape-rendering="crispEdges"/>
<line x1="1031" y1="176.5" x2="1041" y2="176.5" stroke="#000" stroke-width="1" shape-rendering="crispEdges"/>
<line x1="1774" y1="176.5" x2="1783" y2="176.5" stroke="#000" stroke-width="1" shape-rendering="crispEdges"/>
<line x1="1031" y1="184.5" x2="1041" y2="184.5" stroke="#000" stroke-width="1" shape-rendering="crispEdges"/>
<line x1="1774" y1="184.5" x2="1783" y2="184.5" stroke="#000" stroke-width="1" shape-rendering="crispEdges"/>
<line x1="1031" y1="191.5" x2="1041" y2="191.5" stroke="#000" stroke-width="1" shape-rendering="crispEdges"/>
<line x1="1774" y1="191.5" x2="1783" y2="191.5" stroke="#000" stroke-width="1" shape-rendering="crispEdges"/>
<line x1="1031" y1="199.5" x2="1041" y2="199.5" stroke="#000" stroke-width="1" shape-rendering="crispEdges"/>
<line x1="1774" y1="199.5" x2="1783" y2="199.5" stroke="#000" stroke-width="1" shape-rendering="crispEdges"/>
<line x1="1032" y1="207.5" x2="1783" y2="207.5" stroke="#000" stroke-width="1" shape-rendering="crispEdges" stroke-dasharray="1 2"/>
<line x1="1031" y1="207.5" x2="1051" y2="207.5" stroke="#000" stroke-width="1" shape-rendering="crispEdges"/>
<line x1="1764" y1="207.5" x2="1783" y2="207.5" stroke="#000" stroke-width="1" shape-rendering="crispEdges"/>
<line x1="1031" y1="214.5" x2="1041" y2="214.5" stroke="#000" stroke-width="1" shape-rendering="crispEdges"/>
<line x1="1774" y1="214.5" x2="1783" y2="214.5" stroke="#000" stroke-width="1" shape-rendering="crispEdges"/>
<line x1="1031" y1="222.5" x2="1041" y2="222.5" stroke="#000" stroke-width="1" shape-rendering="crispEdges"/>
<line x1="1774" y1="222.5" x2="1783" y2="222.5" stroke="#000" stroke-width="1" shape-rendering="crispEdges"/>
<line x1="1031" y1="230.5" x2="1041" y2="230.5" stroke="#000" stroke-width="1" shape-rendering="crispEdges"/>
<line x1="1774" y1="230.5" x2="1783" y2="230.5" stroke="#000" stroke-width="1" shape-rendering="crispEdges"/>
<line x1="1031" y1="237.5" x2="1041" y2="237.5" stroke="#000" stroke-width="1" shape-rendering="crispEdges"/>
<line x1="1774" y1="237.5" x2="1783" y2="237.5" stroke="#000" stroke-width="1" shape-rendering="crispEdges"/>
<line x1="1032" y1="245.5" x2="1783" y2="245.5" stroke="#000" stroke-width="1" shape-rendering="crispEdges" stroke-dasharray="1 2"/>
<line x1="1031" y1="245.5" x2="1051" y2="245.5" stroke="#000" stroke-width="1" shape-rendering="crispEdges"/>
<line x1="1764" y1="245.5" x2="1783" y2="245.5" stroke="#000" stroke-width="1" shape-rendering="crispEdges"/>
<line x1="1031" y1="253.5" x2="1041" y2="253.5" stroke="#000" stroke-width="1" shape-rendering="crispEdges"/>
<line x1="1774" y1="253.5" x2="1783" y2="253.5" stroke="#000" stroke-width="1" shape-rendering="crispEdges"/>
<line x1="1031" y1="260.5" x2="1041" y2="260.5" stroke="#000" stroke-width="1" shape-rendering="crispEdges"/>
<line x1="1774" y1="260.5" x2="1783" y2="260.5" stroke="#000" stroke-width="1" shape-rendering="crispEdges"/>
<line x1="1031" y1="268.5" x2="1041" y2="268.5" stroke="#000" stroke-width="1" shape-rendering="crispEdges"/>
<line x1="1774" y1="268.5" x2="1783" y2="268.5" stroke="#000" stroke-width="1" shape-rendering="crispEdges"/>
<line x1="1031" y1="276.5" x2="1041" y2="276.5" stroke="#000" stroke-width="1" shape-rendering="crispEdges"/>
<line x1="1774" y1="276.5" x2="1783" y2="276.5" stroke="#000" stroke-width="1" shape-rendering="crispEdges"/>
<line x1="1032" y1="283.5" x2="1783" y2="283.5" stroke="#000" stroke-width="1" shape-rendering="crispEdges" stroke-dasharray="1 2"/>
<line x1="1031" y1="283.5" x2="1051" y2="283.5" stroke="#000" stroke-width="1" shape-rendering="crispEdges"/>
<line x1="1764" y1="283.5" x2="1783" y2="283.5" stroke="#000" stroke-width="1" shape-rendering="crispEdges"/>
<line x1="1031" y1="291.5" x2="1041" y2="291.5" stroke="#000" stroke-width="1" shape-rendering="crispEdges"/>
<line x1="1774" y1="291.5" x2="1783" y2="291.5" stroke="#000" stroke-width="1" shape-rendering="crispEdges"/>
<line x1="1031" y1="299.5" x2="1041" y2="299.5" stroke="#000" stroke-width="1" shape-rendering="crispEdges"/>
<line x1="1774" y1="299.5" x2="1783" y2="299.5" stroke="#000" stroke-width="1" shape-rendering="crispEdges"/>
<line x1="1031" y1="306.5" x2="1041" y2="306.5" stroke="#000" stroke-width="1" shape-rendering="crispEdges"/>
<line x1="1774" y1="306.5" x2="1783" y2="306.5" stroke="#000" stroke-width="1" shape-rendering="crispEdges"/>
<line x1="1031" y1="314.5" x2="1041" y2="314.5" stroke="#000" stroke-width="1" shape-rendering="crispEdges"/>
<line x1="1774" y1="314.5" x2="1783" y2="314.5" stroke="#000" stroke-width="1" shape-rendering="crispEdges"/>
<line x1="1032" y1="322.5" x2="1783" y2="322.5" stroke="#000" stroke-width="1" shape-rendering="crispEdges" stroke-dasharray="1 2"/>
<line x1="1031" y1="322.5" x2="1051" y2="322.5" stroke="#000" stroke-width="1" shape-rendering="crispEdges"/>
<line x1="1764" y1="322.5" x2="1783" y2="322.5" stroke="#000" stroke-width="1" shape-rendering="crispEdges"/>
<line x1="1031" y1="329.5" x2="1041" y2="329.5" stroke="#000" stroke-width="1" shape-rendering="crispEdges"/>
<line x1="1774" y1="329.5" x2="1783" y2="329.5" stroke="#000" stroke-width="1" shape-rendering="crispEdges"/>
<line x1="1031" y1="337.5" x2="1041" y2="337.5" stroke="#000" stroke-width="1" shape-rendering="crispEdges"/>
<line x1="1774" y1="337.5" x2="1783" y2="337.5" stroke="#000" stroke-width="1" shape-rendering="crispEdges"/>
<line x1="1031" y1="345.5" x2="1041" y2="345.5" stroke="#000" stroke-width="1" shape-rendering="crispEdges"/>
<line x1="1774" y1="345.5" x2="1783" y2="345.5" stroke="#000" stroke-width="1" shape-rendering="crispEdges"/>
<line x1="1031" y1="352.5" x2="1041" y2="352.5" stroke="#000" stroke-width="1" shape-rendering="crispEdges"/>
<line x1="1774" y1="352.5" x2="1783" y2="352.5" stroke="#000" stroke-width="1" shape-rendering="crispEdges"/>
<line x1="1032" y1="360.5" x2="1783" y2="360.5" stroke="#000" stroke-width="1" shape-rendering="crispEdges" stroke-dasharray="1 2"/>
<line x1="1031" y1="360.5" x2="1051" y2="360.5" stroke="#000" stroke-width="1" shape-rendering="crispEdges"/>
<line x1="1764" y1="360.5" x2="1783" y2="360.5" stroke="#000" stroke-width="1" shape-rendering="crispEdges"/>
<line x1="1031" y1="368.5" x2="1041" y2="368.5" stroke="#000" stroke-width="1" shape-rendering="crispEdges"/>
<line x1="1774" y1="368.5" x2="1783" y2="368.5" stroke="#000" stroke-width="1" shape-rendering="crispEdges"/>
<line x1="1031" y1="376.5" x2="1041" y2="376.5" stroke="#000" stroke-width="1" shape-rendering="crispEdges"/>
<line x1="1774" y1="376.5" x2="1783" y2="376.5" stroke="#000" stroke-width="1" shape-rendering="crispEdges"/>
<line x1="1031" y1="383.5" x2="1041" y2="383.5" stroke="#000" stroke-width="1" shape-rendering="crispEdges"/>
<line x1="1774" y1="383.5" x2="1783" y2="383.5" stroke="#000" stroke-width="1" shape-rendering="crispEdges"/>
<line x1="1031" y1="391.5" x2="1041" y2="391.5" stroke="#000" stroke-width="1" shape-rendering="crispEdges"/>
<line x1="1774" y1="391.5" x2="1783" y2="391.5" stroke="#000" stroke-width="1" shape-rendering="crispEdges"/>
<line x1="1032" y1="399.5" x2="1783" y2="399.5" stroke="#000" stroke-width="1" shape-rendering="crispEdges" stroke-dasharray="1 2"/>
<line x1="1031" y1="399.5" x2="1051" y2="399.5" stroke="#000" stroke-width="1" shape-rendering="crispEdges"/>
<line x1="1764" y1="399.5" x2="1783" y2="399.5" stroke="#000" stroke-width="1" shape-rendering="crispEdges"/>
<line x1="1031" y1="406.5" x2="1041" y2="406.5" stroke="#000" stroke-width="1" shape-rendering="crispEdges"/>
<line x1="1774" y1="406.5" x2="1783" y2="406.5" stroke="#000" stroke-width="1" shape-rendering="crispEdges"/>
<line x1="1031" y1="414.5" x2="1041" y2="414.5" stroke="#000" stroke-width="1" shape-rendering="crispEdges"/>
<line x1="1774" y1="414.5" x2="1783" y2="414.5" stroke="#000" stroke-width="1" shape-rendering="crispEdges"/>
<line x1="1031" y1="422.5" x2="1041" y2="422.5" stroke="#000" stroke-width="1" shape-rendering="crispEdges"/>
<line x1="1774" y1="422.5" x2="1783" y2="422.5" stroke="#000" stroke-width="1" shape-rendering="crispEdges"/>
<line x1="1031" y1="429.5" x2="1041" y2="429.5" stroke="#000" stroke-width="1" shape-rendering="crispEdges"/>
<line x1="1774" y1="429.5" x2="1783" y2="429.5" stroke="#000" stroke-width="1" shape-rendering="crispEdges"/>
<line x1="1032" y1="437.5" x2="1783" y2="437.5" stroke="#000" stroke-width="1" shape-rendering="crispEdges" stroke-dasharray="1 2"/>
<line x1="1031" y1="437.5" x2="1051" y2="437.5" stroke="#000" stroke-width="1" shape-rendering="crispEdges"/>
<line x1="1764" y1="437.5" x2="1783" y2="437.5" stroke="#000" stroke-width="1" shape-rendering="crispEdges"/>
<line x1="1031" y1="445.5" x2="1041" y2="445.5" stroke="#000" stroke-width="1" shape-rendering="crispEdges"/>
<line x1="1774" y1="445.5" x2="1783" y2="445.5" stroke="#000" stroke-width="1" shape-rendering="crispEdges"/>
<line x1="1031" y1="452.5" x2="1041" y2="452.5" stroke="#000" stroke-width="1" shape-rendering="crispEdges"/>
<line x1="1774" y1="452.5" x2="1783" y2="452.5" stroke="#000" stroke-width="1" shape-rendering="crispEdges"/>
<line x1="1031" y1="460.5" x2="1041" y2="460.5" stroke="#000" stroke-width="1" shape-rendering="crispEdges"/>
<line x1="1774" y1="460.5" x2="1783" y2="460.5" stroke="#000" stroke-width="1" shape-rendering="crispEdges"/>
<line x1="1031" y1="468.5" x2="1041" y2="468.5" stroke="#000" stroke-width="1" shape-rendering="crispEdges"/>
<line x1="1774" y1="468.5" x2="1783" y2="468.5" stroke="#000" stroke-width="1" shape-rendering="crispEdges"/>
<line x1="1032" y1="475.5" x2="1783" y2="475.5" stroke="#000" stroke-width="1" shape-rendering="crispEdges" stroke-dasharray="1 2"/>
<line x1="1031" y1="475.5" x2="1051" y2="475.5" stroke="#000" stroke-width="1" shape-rendering="crispEdges"/>
<line x1="1764" y1="475.5" x2="1783" y2="475.5" stroke="#000" stroke-width="1" shape-rendering="crispEdges"/>
<line x1="1031" y1="483.5" x2="1041" y2="483.5" stroke="#000" stroke-width="1" shape-rendering="crispEdges"/>
<line x1="1774" y1="483.5" x2="1783" y2="483.5" stroke="#000" stroke-width="1" shape-rendering="crispEdges"/>
<line x1="1031" y1="491.5" x2="1041" y2="491.5" stroke="#000" stroke-width="1" shape-rendering="crispEdges"/>
<line x1="1774" y1="491.5" x2="1783" y2="491.5" stroke="#000" stroke-width="1" shape-rendering="crispEdges"/>
<line x1="1031" y1="498.5" x2="1041" y2="498.5" stroke="#000" stroke-width="1" shape-rendering="crispEdges"/>
<line x1="1774" y1="498.5" x2="1783" y2="498.5" stroke="#000" stroke-width="1" shape-rendering="crispEdges"/>
<line x1="1031" y1="506.5" x2="1041" y2="506.5" stroke="#000" stroke-width="1" shape-rendering="crispEdges"/>
<line x1="1774" y1="506.5" x2="1783" y2="506.5" stroke="#000" stroke-width="1" shape-rendering="crispEdges"/>
<line x1="217.5" y1="672" x2="217.5" y2="1056" stroke="#000" stroke-width="1" shape-rendering="crispEdges" stroke-dasharray="1 2"/>
<line x1="217.5" y1="1050" x2="217.5" y2="1056" stroke="#000" stroke-width="1" shape-rendering="crispEdges"/>
<line x1="217.5" y1="672" x2="217.5" y2="679" stroke="#000" stroke-width="1" shape-rendering="crispEdges"/>
<line x1="275.5" y1="672" x2="275.5" y2="1056" stroke="#000" stroke-width="1" shape-rendering="crispEdges" stroke-dasharray="1 2"/>
<line x1="275.5" y1="1050" x2="275.5" y2="1056" stroke="#000" stroke-width="1" shape-rendering="crispEdges"/>
<line x1="275.5" y1="672" x2="275.5" y2="679" stroke="#000" stroke-width="1" shape-rendering="crispEdges"/>
<line x1="316.5" y1="672" x2="316.5" y2="1056" stroke="#000" stroke-width="1" shape-rendering="crispEdges" stroke-dasharray="1 2"/>
<line x1="316.5" y1="1050" x2="316.5" y2="1056" stroke="#000" stroke-width="1" shape-rendering="crispEdges"/>
<line x1="316.5" y1="672" x2="316.5" y2="679" stroke="#000" stroke-width="1" shape-rendering="crispEdges"/>
<line x1="347.5" y1="672" x2="347.5" y2="1056" stroke="#000" stroke-width="1" shape-rendering="crispEdges" stroke-dasharray="1 2"/>
<line x1="347.5" y1="1050" x2="347.5" y2="1056" stroke="#000" stroke-width="1" shape-rendering="crispEdges"/>
<line x1="347.5" y1="672" x2="347.5" y2="679" stroke="#000" stroke-width="1" shape-rendering="crispEdges"/>
<line x1="373.5" y1="672" x2="373.5" y2="1056" stroke="#000" stroke-width="1" shape-rendering="crispEdges" stroke-dasharray="1 2"/>
<line x1="373.5" y1="1050" x2="373.5" y2="1056" stroke="#000" stroke-width="1" shape-rendering="crispEdges"/>
<line x1="373.5" y1="672" x2="373.5" y2="679" stroke="#000" stroke-width="1" shape-rendering="crispEdges"/>
<line x1="395.5" y1="672" x2="395.5" y2="1056" stroke="#000" stroke-width="1" shape-rendering="crispEdges" stroke-dasharray="1 2"/>
<line x1="395.5" y1="1050" x2="395.5" y2="1056" stroke="#000" stroke-width="1" shape-rendering="crispEdges"/>
<line x1="395.5" y1="672" x2="395.5" y2="679" stroke="#000" stroke-width="1" shape-rendering="crispEdges"/>
<line x1="414.5" y1="672" x2="414.5" y2="1056" stroke="#000" stroke-width="1" shape-rendering="crispEdges" stroke-dasharray="1 2"/>
<line x1="414.5" y1="1050" x2="414.5" y2="1056" stroke="#000" stroke-width="1" shape-rendering="crispEdges"/>
<line x1="414.5" y1="672" x2="414.5" y2="679" stroke="#000" stroke-width="1" shape-rendering="crispEdges"/>
<line x1="431.5" y1="672" x2="431.5" y2="1056" stroke="#000" stroke-width="1" shape-rendering="crispEdges" stroke-dasharray="1 2"/>
<line x1="431.5" y1="1050" x2="431.5" y2="1056" stroke="#000" stroke-width="1" shape-rendering="crispEdges"/>
<line x1="431.5" y1="672" x2="431.5" y2="679" stroke="#000" stroke-width="1" shape-rendering="crispEdges"/>
<line x1="446.5" y1="672" x2="446.5" y2="1056" stroke="#000" stroke-width="1" shape-rendering="crispEdges" stroke-dasharray="1 2"/>
<line x1="446.5" y1="1044" x2="446.5" y2="1056" stroke="#000" stroke-width="1" shape-rendering="crispEdges"/>
<line x1="446.5" y1="672" x2="446.5" y2="685" stroke="#000" stroke-width="1" shape-rendering="crispEdges"/>
<line x1="544.5" y1="672" x2="544.5" y2="1056" stroke="#000" stroke-width="1" shape-rendering="crispEdges" stroke-dasharray="1 2"/>
<line x1="544.5" y1="1050" x2="544.5" y2="1056" stroke="#000" stroke-width="1" shape-rendering="crispEdges"/>
<line x1="544.5" y1="672" x2="544.5" y2="679" stroke="#000" stroke-width="1" shape-rendering="crispEdges"/>
<line x1="601.5" y1="672" x2="601.5" y2="1056" stroke="#000" stroke-width="1" shape-rendering="crispEdges" stroke-dasharray="1 2"/>
<line x1="601.5" y1="1050" x2="601.5" y2="1056" stroke="#000" stroke-width="1" shape-rendering="crispEdges"/>
<line x1="601.5" y1="672" x2="601.5" y2="679" stroke="#000" stroke-width="1" shape-rendering="crispEdges"/>
<line x1="642.5" y1="672" x2="642.5" y2="1056" stroke="#000" stroke-width="1" shape-rendering="crispEdges" stroke-dasharray="1 2"/>
<line x1="642.5" y1="1050" x2="642.5" y2="1056" stroke="#000" stroke-width="1" shape-rendering="crispEdges"/>
<line x1="642.5" y1="672" x2="642.5" y2="679" stroke="#000" stroke-width="1" shape-rendering="crispEdges"/>
<line x1="674.5" y1="672" x2="674.5" y2="1056" stroke="#000" stroke-width="1" shape-rendering="crispEdges" stroke-dasharray="1 2"/>
<line x1="674.5" y1="1050" x2="674.5" y2="1056" stroke="#000" stroke-width="1" shape-rendering="crispEdges"/>
<line x1="674.5" y1="672" x2="674.5" y2="679" stroke="#000" stroke-width="1" shape-rendering="crispEdges"/>
<line x1="700.5" y1="672" x2="700.5" y2="1056" stroke="#000" stroke-width="1" shape-rendering="crispEdges" stroke-dasharray="1 2"/>
<line x1="700.5" y1="1050" x2="700.5" y2="1056" stroke="#000" stroke-width="1" shape-rendering="crispEdges"/>
<line x1="700.5" y1="672" x2="700.5" y2="679" stroke="#000" stroke-width="1" shape-rendering="crispEdges"/>
<line x1="721.5" y1="672" x2="721.5" y2="1056" stroke="#000" stroke-width="1" shape-rendering="crispEdges" stroke-dasharray="1 2"/>
<line x1="721.5" y1="1050" x2="721.5" y2="1056" stroke="#000" stroke-width="1" shape-rendering="crispEdges"/>
<line x1="721.5" y1="672" x2="721.5" y2="679" stroke="#000" stroke-width="1" shape-rendering="crispEdges"/>
<line x1="740.5" y1="672" x2="740.5" y2="1056" stroke="#000" stroke-width="1" shape-rendering="crispEdges" stroke-dasharray="1 2"/>
<line x1="740.5" y1="1050" x2="740.5" y2="1056" stroke="#000" stroke-width="1" shape-rendering="crispEdges"/>
<line x1="740.5" y1="672" x2="740.5" y2="679" stroke="#000" stroke-width="1" shape-rendering="crispEdges"/>
<line x1="757.5" y1="672" x2="757.5" y2="1056" stroke="#000" stroke-width="1" shape-rendering="crispEdges" stroke-dasharray="1 2"/>
<line x1="757.5" y1="1050" x2="757.5" y2="1056" stroke="#000" stroke-width="1" shape-rendering="crispEdges"/>
<line x1="757.5" y1="672" x2="757.5" y2="679" stroke="#000" stroke-width="1" shape-rendering="crispEdges"/>
<line x1="772.5" y1="672" x2="772.5" y2="1056" stroke="#000" stroke-width="1" shape-rendering="crispEdges" stroke-dasharray="1 2"/>
<line x1="772.5" y1="1044" x2="772.5" y2="1056" stroke="#000" stroke-width="1" shape-rendering="crispEdges"/>
<line x1="772.5" y1="672" x2="772.5" y2="685" stroke="#000" stroke-width="1" shape-rendering="crispEdges"/>
<line x1="870.5" y1="672" x2="870.5" y2="1056" stroke="#000" stroke-width="1" shape-rendering="crispEdges" stroke-dasharray="1 2"/>
<line x1="870.5" y1="1050" x2="870.5" y2="1056" stroke="#000" stroke-width="1" shape-rendering="crispEdges"/>
<line x1="870.5" y1="672" x2="870.5" y2="679" stroke="#000" stroke-width="1" shape-rendering="crispEdges"/>
<line x1="119" y1="1048.5" x2="129" y2="1048.5" stroke="#000" stroke-width="1" shape-rendering="crispEdges"/>
<line x1="862" y1="1048.5" x2="871" y2="1048.5" stroke="#000" stroke-width="1" shape-rendering="crispEdges"/>
<line x1="119" y1="1040.5" x2="129" y2="1040.5" stroke="#000" stroke-width="1" shape-rendering="crispEdges"/>
<line x1="862" y1="1040.5" x2="871" y2="1040.5" stroke="#000" stroke-width="1" shape-rendering="crispEdges"/>
<line x1="119" y1="1033.5" x2="129" y2="1033.5" stroke="#000" stroke-width="1" shape-rendering="crispEdges"/>
<line x1="862" y1="1033.5" x2="871" y2="1033.5" stroke="#000" stroke-width="1" shape-rendering="crispEdges"/>
<line x1="119" y1="1025.5" x2="129" y2="1025.5" stroke="#000" stroke-width="1" shape-rendering="crispEdges"/>
<line x1="862" y1="1025.5" x2="871" y2="1025.5" stroke="#000" stroke-width="1" shape-rendering="crispEdges"/>
<line x1="120" y1="1017.5" x2="871" y2="1017.5" stroke="#000" stroke-width="1" shape-rendering="crispEdges" stroke-dasharray="1 2"/>
<line x1="119" y1="1017.5" x2="139" y2="1017.5" stroke="#000" stroke-width="1" shape-rendering="crispEdges"/>
<line x1="852" y1="1017.5" x2="871" y2="1017.5" stroke="#000" stroke-width="1" shape-rendering="crispEdges"/>
<line x1="119" y1="1010.5" x2="129" y2="1010.5" stroke="#000" stroke-width="1" shape-rendering="crispEdges"/>
<line x1="862" y1="1010.5" x2="871" y2="1010.5" stroke="#000" stroke-width="1" shape-rendering="crispEdges"/>
<line x1="119" y1="1002.5" x2="129" y2="1002.5" stroke="#000" stroke-width="1" shape-rendering="crispEdges"/>
<line x1="862" y1="1002.5" x2="871" y2="1002.5" stroke="#000" stroke-width="1" shape-rendering="crispEdges"/>
<line x1="119" y1="994.5" x2="129" y2="994.5" stroke="#000" stroke-width="1" shape-rendering="crispEdges"/>
<line x1="862" y1="994.5" x2="871" y2="994.5" stroke="#000" stroke-width="1" shape-rendering="crispEdges"/>
<line x1="119" y1="987.5" x2="129" y2="987.5" stroke="#000" stroke-width="1" shape-rendering="crispEdges"/>
<line x1="862" y1="987.5" x2="871" y2="987.5" stroke="#000" stroke-width="1" shape-rendering="crispEdges"/>
<line x1="120" y1="979.5" x2="871" y2="979.5" stroke="#000" stroke-width="1" shape-rendering="crispEdges" stroke-dasharray="1 2"/>
<line x1="119" y1="979.5" x2="139" y2="979.5" stroke="#000" stroke-width="1" shape-rendering="crispEdges"/>
<line x1="852" y1="979.5" x2="871" y2="979.5" stroke="#000" stroke-width="1" shape-rendering="crispEdges"/>
<line x1="119" y1="971.5" x2="129" y2="971.5" stroke="#000" stroke-width="1" shape-rendering="crispEdges"/>
<line x1="862" y1="971.5" x2="871" y2="971.5" stroke="#000" stroke-width="1" shape-rendering="crispEdges"/>
<line x1="119" y1="964.5" x2="129" y2="964.5" stroke="#000" stroke-width="1" shape-rendering="crispEdges"/>
<line x1="862" y1="964.5" x2="871" y2="964.5" stroke="#000" stroke-width="1" shape-rendering="crispEdges"/>
<line x1="119" y1="956.5" x2="129" y2="956.5" stroke="#000" stroke-width="1" shape-rendering="crispEdges"/>
<line x1="862" y1="956.5" x2="871" y2="956.5" stroke="#000" stroke-width="1" shape-rendering="crispEdges"/>
<line x1="119" y1="948.5" x2="129" y2="948.5" stroke="#000" stroke-width="1" shape-rendering="crispEdges"/>
<line x1="862" y1="948.5" x2="871" y2="948.5" stroke="#000" stroke-width="1" shape-rendering="crispEdges"/>
<line x1="120" y1="941.5" x2="871" y2="941.5" stroke="#000" stroke-width="1" shape-rendering="crispEdges" stroke-dasharray="1 2"/>
<line x1="119" y1="941.5" x2="139" y2="941.5" stroke="#000" stroke-width="1" shape-rendering="crispEdges"/>
<line x1="852" y1="941.5" x2="871" y2="941.5" stroke="#000" stroke-width="1" shape-rendering="crispEdges"/>
<line x1="119" y1="933.5" x2="129" y2="933.5" stroke="#000" stroke-width="1" shape-rendering="crispEdges"/>
<line x1="862" y1="933.5" x2="871" y2="933.5" stroke="#000" stroke-width="1" shape-rendering="crispEdges"/>
<line x1="119" y1="925.5" x2="129" y2="925.5" stroke="#000" stroke-width="1" shape-rendering="crispEdges"/>
<line x1="862" y1="925.5" x2="871" y2="925.5" stroke="#000" stroke-width="1" shape-rendering="crispEdges"/>
<line x1="119" y1="918.5" x2="129" y2="918.5" stroke="#000" stroke-width="1" shape-rendering="crispEdges"/>
<line x1="862" y1="918.5" x2="871" y2="918.5" stroke="#000" stroke-width="1" shape-rendering="crispEdges"/>
<line x1="119" y1="910.5" x2="129" y2="910.5" stroke="#000" stroke-width="1" shape-rendering="crispEdges"/>
<line x1="862" y1="910.5" x2="871" y2="910.5" stroke="#000" stroke-width="1" shape-rendering="crispEdges"/>
<line x1="120" y1="902.5" x2="871" y2="902.5" stroke="#000" stroke-width="1" shape-rendering="crispEdges" stroke-dasharray="1 2"/>
<line x1="119" y1="902.5" x2="139" y2="902.5" stroke="#000" stroke-width="1" shape-rendering="crispEdges"/>
<line x1="852" y1="902.5" x2="871" y2="902.5" stroke="#000" stroke-width="1" shape-rendering="crispEdges"/>
<line x1="119" y1="894.5" x2="129" y2="894.5" stroke="#000" stroke-width="1" shape-rendering="crispEdges"/>
<line x1="862" y1="894.5" x2="871" y2="894.5" stroke="#000" stroke-width="1" shape-rendering="crispEdges"/>
<line x1="119" y1="887.5" x2="129" y2="887.5" stroke="#000" stroke-width="1" shape-rendering="crispEdges"/>
<line x1="862" y1="887.5" x2="871" y2="887.5" stroke="#000" stroke-width="1" shape-rendering="crispEdges"/>
<line x1="119" y1="879.5" x2="129" y2="879.5" stroke="#000" stroke-width="1" shape-rendering="crispEdges"/>
<line x1="862" y1="879.5" x2="871" y2="879.5" stroke="#000" stroke-width="1" shape-rendering="crispEdges"/>
<line x1="119" y1="871.5" x2="129" y2="871.5" stroke="#000" stroke-width="1" shape-rendering="crispEdges"/>
<line x1="862" y1="871.5" x2="871" y2="871.5" stroke="#000" stroke-width="1" shape-rendering="crispEdges"/>
<line x1="120" y1="864.5" x2="871" y2="864.5" stroke="#000" stroke-width="1" shape-rendering="crispEdges" stroke-dasharray="1 2"/>
<line x1="119" y1="864.5" x2="139" y2="864.5" stroke="#000" stroke-width="1" shape-rendering="crispEdges"/>
<line x1="852" y1="864.5" x2="871" y2="864.5" stroke="#000" stroke-width="1" shape-rendering="crispEdges"/>
<line x1="119" y1="856.5" x2="129" y2="856.5" stroke="#000" stroke-width="1" shape-rendering="crispEdges"/>
<line x1="862" y1="856.5" x2="871" y2="856.5" stroke="#000" stroke-width="1" shape-rendering="crispEdges"/>
<line x1="119" y1="848.5" x2="129" y2="848.5" stroke="#000" stroke-width="1" shape-rendering="crispEdges"/>
<line x1="862" y1="848.5" x2="871" y2="848.5" stroke="#000" stroke-width="1" shape-rendering="crispEdges"/>
<line x1="119" y1="841.5" x2="129" y2="841.5" stroke="#000" stroke-width="1" shape-rendering="crispEdges"/>
<line x1="862" y1="841.5" x2="871" y2="841.5" stroke="#000" stroke-width="1" shape-rendering="crispEdges"/>
<line x1="119" y1="833.5" x2="129" y2="833.5" stroke="#000" stroke-width="1" shape-rendering="crispEdges"/>
<line x1="862" y1="833.5" x2="871" y2="833.5" stroke="#000" stroke-width="1" shape-rendering="crispEdges"/>
<line x1="120" y1="825.5" x2="871" y2="825.5" stroke="#000" stroke-width="1" shape-rendering="crispEdges" stroke-dasharray="1 2"/>
<line x1="119" y1="825.5" x2="139" y2="825.5" stroke="#000" stroke-width="1" shape-rendering="crispEdges"/>
<line x1="852" y1="825.5" x2="871" y2="825.5" stroke="#000" stroke-width="1" shape-rendering="crispEdges"/>
<line x1="119" y1="818.5" x2="129" y2="818.5" stroke="#000" stroke-width="1" shape-rendering="crispEdges"/>
<line x1="862" y1="818.5" x2="871" y2="818.5" stroke="#000" stroke-width="1" shape-rendering="crispEdges"/>
<line x1="119" y1="810.5" x2="129" y2="810.5" stroke="#000" stroke-width="1" shape-rendering="crispEdges"/>
<line x1="862" y1="810.5" x2="871" y2="810.5" stroke="#000" stroke-width="1" shape-rendering="crispEdges"/>
<line x1="119" y1="802.5" x2="129" y2="802.5" stroke="#000" stroke-width="1" shape-rendering="crispEdges"/>
<line x1="862" y1="802.5" x2="871" y2="802.5" stroke="#000" stroke-width="1" shape-rendering="crispEdges"/>
<line x1="119" y1="795.5" x2="129" y2="795.5" stroke="#000" stroke-width="1" shape-rendering="crispEdges"/>
<line x1="862" y1="795.5" x2="871" y2="795.5" stroke="#000" stroke-width="1" shape-rendering="crispEdges"/>
<line x1="120" y1="787.5" x2="871" y2="787.5" stroke="#000" stroke-width="1" shape-rendering="crispEdges" stroke-dasharray="1 2"/>
<line x1="119" y1="787.5" x2="139" y2="787.5" stroke="#000" stroke-width="1" shape-rendering="crispEdges"/>
<line x1="852" y1="787.5" x2="871" y2="787.5" stroke="#000" stroke-width="1" shape-rendering="crispEdges"/>
<line x1="119" y1="779.5" x2="129" y2="779.5" stroke="#000" stroke-width="1" shape-rendering="crispEdges"/>
<line x1="862" y1="779.5" x2="871" y2="779.5" stroke="#000" stroke-width="1" shape-rendering="crispEdges"/>
<line x1="119" y1="772.5" x2="129" y2="772.5" stroke="#000" stroke-width="1" shape-rendering="crispEdges"/>
<line x1="862" y1="772.5" x2="871" y2="772.5" stroke="#000" stroke-width="1" shape-rendering="crispEdges"/>
<line x1="119" y1="764.5" x2="129" y2="764.5" stroke="#000" stroke-width="1" shape-rendering="crispEdges"/>
<line x1="862" y1="764.5" x2="871" y2="764.5" stroke="#000" stroke-width="1" shape-rendering="crispEdges"/>
<line x1="119" y1="756.5" x2="129" y2="756.5" stroke="#000" stroke-width="1" shape-rendering="crispEdges"/>
<line x1="862" y1="756.5" x2="871" y2="756.5" stroke="#000" stroke-width="1" shape-rendering="crispEdges"/>
<line x1="120" y1="749.5" x2="871" y2="749.5" stroke="#000" stroke-width="1" shape-rendering="crispEdges" stroke-dasharray="1 2"/>
<line x1="119" y1="749.5" x2="139" y2="749.5" stroke="#000" stroke-width="1" shape-rendering="crispEdges"/>
<line x1="852" y1="749.5" x2="871" y2="749.5" stroke="#000" stroke-width="1" shape-rendering="crispEdges"/>
<line x1="119" y1="741.5" x2="129" y2="741.5" stroke="#000" stroke-width="1" shape-rendering="crispEdges"/>
<line x1="862" y1="741.5" x2="871" y2="741.5" stroke="#000" stroke-width="1" shape-rendering="crispEdges"/>
<line x1="119" y1="733.5" x2="129" y2="733.5" stroke="#000" stroke-width="1" shape-rendering="crispEdges"/>
<line x1="862" y1="733.5" x2="871" y2="733.5" stroke="#000" stroke-width="1" shape-rendering="crispEdges"/>
<line x1="119" y1="726.5" x2="129" y2="726.5" stroke="#000" stroke-width="1" shape-rendering="crispEdges"/>
<line x1="862" y1="726.5" x2="871" y2="726.5" stroke="#000" stroke-width="1" shape-rendering="crispEdges"/>
<line x1="119" y1="718.5" x2="129" y2="718.5" stroke="#000" stroke-width="1" shape-rendering="crispEdges"/>
<line x1="862" y1="718.5" x2="871" y2="718.5" stroke="#000" stroke-width="1" shape-rendering="crispEdges"/>
<line x1="120" y1="710.5" x2="871" y2="710.5" stroke="#000" stroke-width="1" shape-rendering="crispEdges" stroke-dasharray="1 2"/>
<line x1="119" y1="710.5" x2="139" y2="710.5" stroke="#000" stroke-width="1" shape-rendering="crispEdges"/>
<line x1="852" y1="710.5" x2="871" y2="710.5" stroke="#000" stroke-width="1" shape-rendering="crispEdges"/>
<line x1="119" y1="703.5" x2="129" y2="703.5" stroke="#000" stroke-width="1" shape-rendering="crispEdges"/>
<line x1="862" y1="703.5" x2="871" y2="703.5" stroke="#000" stroke-width="1" shape-rendering="crispEdges"/>
<line x1="119" y1="695.5" x2="129" y2="695.5" stroke="#000" stroke-width="1" shape-rendering="crispEdges"/>
<line x1="862" y1="695.5" x2="871" y2="695.5" stroke="#000" stroke-width="1" shape-rendering="crispEdges"/>
<line x1="119" y1="687.5" x2="129" y2="687.5" stroke="#000" stroke-width="1" shape-rendering="crispEdges"/>
<line x1="862" y1="687.5" x2="871" y2="687.5" stroke="#000" stroke-width="1" shape-rendering="crispEdges"/>
<line x1="119" y1="680.5" x2="129" y2="680.5" stroke="#000" stroke-width="1" shape-rendering="crispEdges"/>
<line x1="862" y1="680.5" x2="871" y2="680.5" stroke="#000" stroke-width="1" shape-rendering="crispEdges"/>
<line x1="1129.5" y1="672" x2="1129.5" y2="1056" stroke="#000" stroke-width="1" shape-rendering="crispEdges" stroke-dasharray="1 2"/>
<line x1="1129.5" y1="1050" x2="1129.5" y2="1056" stroke="#000" stroke-width="1" shape-rendering="crispEdges"/>
<line x1="1129.5" y1="672" x2="1129.5" y2="679" stroke="#000" stroke-width="1" shape-rendering="crispEdges"/>
<line x1="1187.5" y1="672" x2="1187.5" y2="1056" stroke="#000" stroke-width="1" shape-rendering="crispEdges" stroke-dasharray="1 2"/>
<line x1="1187.5" y1="1050" x2="1187.5" y2="1056" stroke="#000" stroke-width="1" shape-rendering="crispEdges"/>
<line x1="1187.5" y1="672" x2="1187.5" y2="679" stroke="#000" stroke-width="1" shape-rendering="crispEdges"/>
<line x1="1228.5" y1="672" x2="1228.5" y2="1056" stroke="#000" stroke-width="1" shape-rendering="crispEdges" stroke-dasharray="1 2"/>
<line x1="1228.5" y1="1050" x2="1228.5" y2="1056" stroke="#000" stroke-width="1" shape-rendering="crispEdges"/>
<line x1="1228.5" y1="672" x2="1228.5" y2="679" stroke="#000" stroke-width="1" shape-rendering="crispEdges"/>
<line x1="1260.5" y1="672" x2="1260.5" y2="1056" stroke="#000" stroke-width="1" shape-rendering="crispEdges" stroke-dasharray="1 2"/>
<line x1="1260.5" y1="1050" x2="1260.5" y2="1056" stroke="#000" stroke-width="1" shape-rendering="crispEdges"/>
<line x1="1260.5" y1="672" x2="1260.5" y2="679" stroke="#000" stroke-width="1" shape-rendering="crispEdges"/>
<line x1="1285.5" y1="672" x2="1285.5" y2="1056" stroke="#000" stroke-width="1" shape-rendering="crispEdges" stroke-dasharray="1 2"/>
<line x1="1285.5" y1="1050" x2="1285.5" y2="1056" stroke="#000" stroke-width="1" shape-rendering="crispEdges"/>
<line x1="1285.5" y1="672" x2="1285.5" y2="679" stroke="#000" stroke-width="1" shape-rendering="crispEdges"/>
<line x1="1307.5" y1="672" x2="1307.5" y2="1056" stroke="#000" stroke-width="1" shape-rendering="crispEdges" stroke-dasharray="1 2"/>
<line x1="1307.5" y1="1050" x2="1307.5" y2="1056" stroke="#000" stroke-width="1" shape-rendering="crispEdges"/>
<line x1="1307.5" y1="672" x2="1307.5" y2="679" stroke="#000" stroke-width="1" shape-rendering="crispEdges"/>
<line x1="1326.5" y1="672" x2="1326.5" y2="1056" stroke="#000" stroke-width="1" shape-rendering="crispEdges" stroke-dasharray="1 2"/>
<line x1="1326.5" y1="1050" x2="1326.5" y2="1056" stroke="#000" stroke-width="1" shape-rendering="crispEdges"/>
<line x1="1326.5" y1="672" x2="1326.5" y2="679" stroke="#000" stroke-width="1" shape-rendering="crispEdges"/>
<line x1="1343.5" y1="672" x2="1343.5" y2="1056" stroke="#000" stroke-width="1" shape-rendering="crispEdges" stroke-dasharray="1 2"/>
<line x1="1343.5" y1="1050" x2="1343.5" y2="1056" stroke="#000" stroke-width="1" shape-rendering="crispEdges"/>
<line x1="1343.5" y1="672" x2="1343.5" y2="679" stroke="#000" stroke-width="1" shape-rendering="crispEdges"/>
<line x1="1358.5" y1="672" x2="1358.5" y2="1056" stroke="#000" stroke-width="1" shape-rendering="crispEdges" stroke-dasharray="1 2"/>
<line x1="1358.5" y1="1044" x2="1358.5" y2="1056" stroke="#000" stroke-width="1" shape-rendering="crispEdges"/>
<line x1="1358.5" y1="672" x2="1358.5" y2="685" stroke="#000" stroke-width="1" shape-rendering="crispEdges"/>
<line x1="1456.5" y1="672" x2="1456.5" y2="1056" stroke="#000" stroke-width="1" shape-rendering="crispEdges" stroke-dasharray="1 2"/>
<line x1="1456.5" y1="1050" x2="1456.5" y2="1056" stroke="#000" stroke-width="1" shape-rendering="crispEdges"/>
<line x1="1456.5" y1="672" x2="1456.5" y2="679" stroke="#000" stroke-width="1" shape-rendering="crispEdges"/>
<line x1="1514.5" y1="672" x2="1514.5" y2="1056" stroke="#000" stroke-width="1" shape-rendering="crispEdges" stroke-dasharray="1 2"/>
<line x1="1514.5" y1="1050" x2="1514.5" y2="1056" stroke="#000" stroke-width="1" shape-rendering="crispEdges"/>
<line x1="1514.5" y1="672" x2="1514.5" y2="679" stroke="#000" stroke-width="1" shape-rendering="crispEdges"/>
<line x1="1555.5" y1="672" x2="1555.5" y2="1056" stroke="#000" stroke-width="1" shape-rendering="crispEdges" stroke-dasharray="1 2"/>
<line x1="1555.5" y1="1050" x2="1555.5" y2="1056" stroke="#000" stroke-width="1" shape-rendering="crispEdges"/>
<line x1="1555.5" y1="672" x2="1555.5" y2="679" stroke="#000" stroke-width="1" shape-rendering="crispEdges"/>
<line x1="1587.5" y1="672" x2="1587.5" y2="1056" stroke="#000" stroke-width="1" shape-rendering="crispEdges" stroke-dasharray="1 2"/>
<line x1="1587.5" y1="1050" x2="1587.5" y2="1056" stroke="#000" stroke-width="1" shape-rendering="crispEdges"/>
<line x1="1587.5" y1="672" x2="1587.5" y2="679" stroke="#000" stroke-width="1" shape-rendering="crispEdges"/>
<line x1="1612.5" y1="672" x2="1612.5" y2="1056" stroke="#000" stroke-width="1" shape-rendering="crispEdges" stroke-dasharray="1 2"/>
<line x1="1612.5" y1="1050" x2="1612.5" y2="1056" stroke="#000" stroke-width="1" shape-rendering="crispEdges"/>
<line x1="1612.5" y1="672" x2="1612.5" y2="679" stroke="#000" stroke-width="1" shape-rendering="crispEdges"/>
<line x1="1634.5" y1="672" x2="1634.5" y2="1056" stroke="#000" stroke-width="1" shape-rendering="crispEdges" stroke-dasharray="1 2"/>
<line x1="1634.5" y1="1050" x2="1634.5" y2="1056" stroke="#000" stroke-width="1" shape-rendering="crispEdges"/>
<line x1="1634.5" y1="672" x2="1634.5" y2="679" stroke="#000" stroke-width="1" shape-rendering="crispEdges"/>
<line x1="1653.5" y1="672" x2="1653.5" y2="1056" stroke="#000" stroke-width="1" shape-rendering="crispEdges" stroke-dasharray="1 2"/>
<line x1="1653.5" y1="1050" x2="1653.5" y2="1056" stroke="#000" stroke-width="1" shape-rendering="crispEdges"/>
<line x1="1653.5" y1="672" x2="1653.5" y2="679" stroke="#000" stroke-width="1" shape-rendering="crispEdges"/>
<line x1="1670.5" y1="672" x2="1670.5" y2="1056" stroke="#000" stroke-width="1" shape-rendering="crispEdges" stroke-dasharray="1 2"/>
<line x1="1670.5" y1="1050" x2="1670.5" y2="1056" stroke="#000" stroke-width="1" shape-rendering="crispEdges"/>
<line x1="1670.5" y1="672" x2="1670.5" y2="679" stroke="#000" stroke-width="1" shape-rendering="crispEdges"/>
<line x1="1685.5" y1="672" x2="1685.5" y2="1056" stroke="#000" stroke-width="1" shape-rendering="crispEdges" stroke-dasharray="1 2"/>
<line x1="1685.5" y1="1044" x2="1685.5" y2="1056" stroke="#000" stroke-width="1" shape-rendering="crispEdges"/>
<line x1="1685.5" y1="672" x2="1685.5" y2="685" stroke="#000" stroke-width="1" shape-rendering="crispEdges"/>
<line x1="1031" y1="1045.5" x2="1041" y2="1045.5" stroke="#000" stroke-width="1" shape-rendering="crispEdges"/>
<line x1="1774" y1="1045.5" x2="1783" y2="1045.5" stroke="#000" stroke-width="1" shape-rendering="crispEdges"/>
<line x1="1031" y1="1034.5" x2="1041" y2="1034.5" stroke="#000" stroke-width="1" shape-rendering="crispEdges"/>
<line x1="1774" y1="1034.5" x2="1783" y2="1034.5" stroke="#000" stroke-width="1" shape-rendering="crispEdges"/>
<line x1="1032" y1="1024.5" x2="1783" y2="1024.5" stroke="#000" stroke-width="1" shape-rendering="crispEdges" stroke-dasharray="1 2"/>
<line x1="1031" y1="1024.5" x2="1051" y2="1024.5" stroke="#000" stroke-width="1" shape-rendering="crispEdges"/>
<line x1="1764" y1="1024.5" x2="1783" y2="1024.5" stroke="#000" stroke-width="1" shape-rendering="crispEdges"/>
<line x1="1031" y1="1013.5" x2="1041" y2="1013.5" stroke="#000" stroke-width="1" shape-rendering="crispEdges"/>
<line x1="1774" y1="1013.5" x2="1783" y2="1013.5" stroke="#000" stroke-width="1" shape-rendering="crispEdges"/>
<line x1="1031" y1="1002.5" x2="1041" y2="1002.5" stroke="#000" stroke-width="1" shape-rendering="crispEdges"/>
<line x1="1774" y1="1002.5" x2="1783" y2="1002.5" stroke="#000" stroke-width="1" shape-rendering="crispEdges"/>
<line x1="1031" y1="992.5" x2="1041" y2="992.5" stroke="#000" stroke-width="1" shape-rendering="crispEdges"/>
<line x1="1774" y1="992.5" x2="1783" y2="992.5" stroke="#000" stroke-width="1" shape-rendering="crispEdges"/>
<line x1="1031" y1="981.5" x2="1041" y2="981.5" stroke="#000" stroke-width="1" shape-rendering="crispEdges"/>
<line x1="1774" y1="981.5" x2="1783" y2="981.5" stroke="#000" stroke-width="1" shape-rendering="crispEdges"/>
<line x1="1032" y1="970.5" x2="1783" y2="970.5" stroke="#000" stroke-width="1" shape-rendering="crispEdges" stroke-dasharray="1 2"/>
<line x1="1031" y1="970.5" x2="1051" y2="970.5" stroke="#000" stroke-width="1" shape-rendering="crispEdges"/>
<line x1="1764" y1="970.5" x2="1783" y2="970.5" stroke="#000" stroke-width="1" shape-rendering="crispEdges"/>
<line x1="1031" y1="960.5" x2="1041" y2="960.5" stroke="#000" stroke-width="1" shape-rendering="crispEdges"/>
<line x1="1774" y1="960.5" x2="1783" y2="960.5" stroke="#000" stroke-width="1" shape-rendering="crispEdges"/>
<line x1="1031" y1="949.5" x2="1041" y2="949.5" stroke="#000" stroke-width="1" shape-rendering="crispEdges"/>
<line x1="1774" y1="949.5" x2="1783" y2="949.5" stroke="#000" stroke-width="1" shape-rendering="crispEdges"/>
<line x1="1031" y1="938.5" x2="1041" y2="938.5" stroke="#000" stroke-width="1" shape-rendering="crispEdges"/>
<line x1="1774" y1="938.5" x2="1783" y2="938.5" stroke="#000" stroke-width="1" shape-rendering="crispEdges"/>
<line x1="1031" y1="928.5" x2="1041" y2="928.5" stroke="#000" stroke-width="1" shape-rendering="crispEdges"/>
<line x1="1774" y1="928.5" x2="1783" y2="928.5" stroke="#000" stroke-width="1" shape-rendering="crispEdges"/>
<line x1="1032" y1="917.5" x2="1783" y2="917.5" stroke="#000" stroke-width="1" shape-rendering="crispEdges" stroke-dasharray="1 2"/>
<line x1="1031" y1="917.5" x2="1051" y2="917.5" stroke="#000" stroke-width="1" shape-rendering="crispEdges"/>
<line x1="1764" y1="917.5" x2="1783" y2="917.5" stroke="#000" stroke-width="1" shape-rendering="crispEdges"/>
<line x1="1031" y1="906.5" x2="1041" y2="906.5" stroke="#000" stroke-width="1" shape-rendering="crispEdges"/>
<line x1="1774" y1="906.5" x2="1783" y2="906.5" stroke="#000" stroke-width="1" shape-rendering="crispEdges"/>
<line x1="1031" y1="896.5" x2="1041" y2="896.5" stroke="#000" stroke-width="1" shape-rendering="crispEdges"/>
<line x1="1774" y1="896.5" x2="1783" y2="896.5" stroke="#000" stroke-width="1" shape-rendering="crispEdges"/>
<line x1="1031" y1="885.5" x2="1041" y2="885.5" stroke="#000" stroke-width="1" shape-rendering="crispEdges"/>
<line x1="1774" y1="885.5" x2="1783" y2="885.5" stroke="#000" stroke-width="1" shape-rendering="crispEdges"/>
<line x1="1031" y1="874.5" x2="1041" y2="874.5" stroke="#000" stroke-width="1" shape-rendering="crispEdges"/>
<line x1="1774" y1="874.5" x2="1783" y2="874.5" stroke="#000" stroke-width="1" shape-rendering="crispEdges"/>
<line x1="1032" y1="864.5" x2="1783" y2="864.5" stroke="#000" stroke-width="1" shape-rendering="crispEdges" stroke-dasharray="1 2"/>
<line x1="1031" y1="864.5" x2="1051" y2="864.5" stroke="#000" stroke-width="1" shape-rendering="crispEdges"/>
<line x1="1764" y1="864.5" x2="1783" y2="864.5" stroke="#000" stroke-width="1" shape-rendering="crispEdges"/>
<line x1="1031" y1="853.5" x2="1041" y2="853.5" stroke="#000" stroke-width="1" shape-rendering="crispEdges"/>
<line x1="1774" y1="853.5" x2="1783" y2="853.5" stroke="#000" stroke-width="1" shape-rendering="crispEdges"/>
<line x1="1031" y1="842.5" x2="1041" y2="842.5" stroke="#000" stroke-width="1" shape-rendering="crispEdges"/>
<line x1="1774" y1="842.5" x2="1783" y2="842.5" stroke="#000" stroke-width="1" shape-rendering="crispEdges"/>
<line x1="1031" y1="832.5" x2="1041" y2="832.5" stroke="#000" stroke-width="1" shape-rendering="crispEdges"/>
<line x1="1774" y1="832.5" x2="1783" y2="832.5" stroke="#000" stroke-width="1" shape-rendering="crispEdges"/>
<line x1="1031" y1="821.5" x2="1041" y2="821.5" stroke="#000" stroke-width="1" shape-rendering="crispEdges"/>
<line x1="1774" y1="821.5" x2="1783" y2="821.5" stroke="#000" stroke-width="1" shape-rendering="crispEdges"/>
<line x1="1032" y1="811.5" x2="1783" y2="811.5" stroke="#000" stroke-width="1" shape-rendering="crispEdges" stroke-dasharray="1 2"/>
<line x1="1031" y1="811.5" x2="1051" y2="811.5" stroke="#000" stroke-width="1" shape-rendering="crispEdges"/>
<line x1="1764" y1="811.5" x2="1783" y2="811.5" stroke="#000" stroke-width="1" shape-rendering="crispEdges"/>
<line x1="1031" y1="800.5" x2="1041" y2="800.5" stroke="#000" stroke-width="1" shape-rendering="crispEdges"/>
<line x1="1774" y1="800.5" x2="1783" y2="800.5" stroke="#000" stroke-width="1" shape-rendering="crispEdges"/>
<line x1="1031" y1="789.5" x2="1041" y2="789.5" stroke="#000" stroke-width="1" shape-rendering="crispEdges"/>
<line x1="1774" y1="789.5" x2="1783" y2="789.5" stroke="#000" stroke-width="1" shape-rendering="crispEdges"/>
<line x1="1031" y1="779.5" x2="1041" y2="779.5" stroke="#000" stroke-width="1" shape-rendering="crispEdges"/>
<line x1="1774" y1="779.5" x2="1783" y2="779.5" stroke="#000" stroke-width="1" shape-rendering="crispEdges"/>
<line x1="1031" y1="768.5" x2="1041" y2="768.5" stroke="#000" stroke-width="1" shape-rendering="crispEdges"/>
<line x1="1774" y1="768.5" x2="1783" y2="768.5" stroke="#000" stroke-width="1" shape-rendering="crispEdges"/>
<line x1="1032" y1="757.5" x2="1783" y2="757.5" stroke="#000" stroke-width="1" shape-rendering="crispEdges" stroke-dasharray="1 2"/>
<line x1="1031" y1="757.5" x2="1051" y2="757.5" stroke="#000" stroke-width="1" shape-rendering="crispEdges"/>
<line x1="1764" y1="757.5" x2="1783" y2="757.5" stroke="#000" stroke-width="1" shape-rendering="crispEdges"/>
<line x1="1031" y1="747.5" x2="1041" y2="747.5" stroke="#000" stroke-width="1" shape-rendering="crispEdges"/>
<line x1="1774" y1="747.5" x2="1783" y2="747.5" stroke="#000" stroke-width="1" shape-rendering="crispEdges"/>
<line x1="1031" y1="736.5" x2="1041" y2="736.5" stroke="#000" stroke-width="1" shape-rendering="crispEdges"/>
<line x1="1774" y1="736.5" x2="1783" y2="736.5" stroke="#000" stroke-width="1" shape-rendering="crispEdges"/>
<line x1="1031" y1="725.5" x2="1041" y2="725.5" stroke="#000" stroke-width="1" shape-rendering="crispEdges"/>
<line x1="1774" y1="725.5" x2="1783" y2="725.5" stroke="#000" stroke-width="1" shape-rendering="crispEdges"/>
<line x1="1031" y1="715.5" x2="1041" y2="715.5" stroke="#000" stroke-width="1" shape-rendering="crispEdges"/>
<line x1="1774" y1="715.5" x2="1783" y2="715.5" stroke="#000" stroke-width="1" shape-rendering="crispEdges"/>
<line x1="1032" y1="704.5" x2="1783" y2="704.5" stroke="#000" stroke-width="1" shape-rendering="crispEdges" stroke-dasharray="1 2"/>
<line x1="1031" y1="704.5" x2="1051" y2="704.5" stroke="#000" stroke-width="1" shape-rendering="crispEdges"/>
<line x1="1764" y1="704.5" x2="1783" y2="704.5" stroke="#000" stroke-width="1" shape-rendering="crispEdges"/>
<line x1="1031" y1="693.5" x2="1041" y2="693.5" stroke="#000" stroke-width="1" shape-rendering="crispEdges"/>
<line x1="1774" y1="693.5" x2="1783" y2="693.5" stroke="#000" stroke-width="1" shape-rendering="crispEdges"/>
<line x1="1031" y1="683.5" x2="1041" y2="683.5" stroke="#000" stroke-width="1" shape-rendering="crispEdges"/>
<line x1="1774" y1="683.5" x2="1783" y2="683.5" stroke="#000" stroke-width="1" shape-rendering="crispEdges"/>
<defs><clipPath id="c1"><rect x="120" y="131" width="751" height="383"/></clipPath><clipPath id="c2"><rect x="1032" y="131" width="751" height="383"/></clipPath><clipPath id="c3"><rect x="120" y="673" width="751" height="383"/></clipPath><clipPath id="c4"><rect x="1032" y="673" width="751" height="383"/></clipPath></defs>
<path d="M129.4 144.5 L194.2 161.4 L232.0 153.2 L258.9 142.7 L279.7 130.6 L296.8 142.0 L311.1 150.4 L323.6 144.8 L334.6 142.2 L344.4 150.4 L353.3 172.3 L361.5 178.0 L368.9 188.6 L374.7 195.5 L381.9 200.5 L389.1 215.0 L394.2 220.0 L400.6 216.1 L404.3 217.9 L409.3 227.3 L418.7 230.9 L422.3 228.3 L430.3 231.2 L433.1 226.2 L437.5 229.1 L441.1 243.9 L443.7 247.0 L447.6 243.6 L450.5 262.3 L454.1 260.5 L456.7 255.4 L458.7 258.0 L462.0 274.2 L464.5 280.0 L466.8 265.5 L470.0 271.3 L471.4 268.4 L477.2 269.6 L480.8 294.4 L485.1 272.7 L488.7 278.5 L492.3 282.1 L496.0 264.8 L497.3 260.9 L500.2 270.5 L503.1 266.7 L506.9 285.0 L508.9 272.5 L515.6 293.7 L519.0 301.4 L522.3 290.8 L525.2 298.5 L531.0 287.0 L532.0 299.5 L534.9 282.0 L536.8 287.9 L538.7 257.0 L542.2 235.9 L544.5 260.9" fill="none" stroke="#000" stroke-width="1" shape-rendering="crispEdges" clip-path="url(#c1)"/>
<path d="M544 260v7M545 266v7M546 272v3M547 271v3M548 273v7M549 279v7M550 285v3M551 279v7M552 275v6M553 280v13M554 292v10M555 301v7M556 307v6M557 312v2M558 313v1M559 313v1M560 313v6M561 318v4M562 316v4M563 315v5M564 305v15M565 305v7M566 311v10M567 320v9M568 328v4M569 331v7M570 331v7M571 327v5M572 321v7M573 320v3M574 322v8M575 327v7M576 308v20M577 294v15M578 290v5M579 287v4M580 286v4M581 289v8M582 296v20M583 315v5M584 313v4M585 309v5M586 308v2M587 308v4M588 311v11M589 313v7M590 307v10M591 307v3M592 308v14M593 317v7M594 322v4M595 325v7M596 329v3M597 330v4M598 331v7M599 329v11M600 339v11M601 340v12M602 323v18M603 317v8M604 317v7M605 323v6M606 328v10M607 330v12M608 324v7M609 317v9M610 312v6M611 310v7M612 312v6M613 309v5M614 306v6M615 301v8M616 294v13M617 291v6M618 294v10M619 287v10M620 282v12M621 282v9M622 286v8M623 293v10M624 302v21M625 321v4M626 319v4M627 314v6M628 304v14M629 295v15M630 295v9M631 297v15M632 311v13M633 320v5M634 324v15M635 338v6M636 340v6M637 344v17M638 360v3M639 356v9M640 355v10M641 349v12M642 354v8M643 356v16M644 362v5M645 361v6M646 361v15M647 361v17M648 361v14M649 365v12M650 360v11M651 357v16M652 365v13M653 353v20M654 355v13M655 355v12M656 357v11M657 351v10M658 349v6M659 350v14M660 344v11M661 347v14M662 346v8M663 348v7M664 346v3M665 337v13M666 336v9M667 326v21M668 328v9M669 324v17M670 340v8M671 343v12M672 341v11M673 351v12M674 355v15M675 367v9M676 373v18M677 369v15M678 369v15M679 376v12M680 383v10M681 383v13M682 387v7M683 390v14M684 385v21M685 385v13M686 376v12M687 373v8M688 369v12M689 376v14M690 379v14M691 390v20M692 401v12M693 407v15M694 421v18M695 422v17M696 425v13M697 422v9M698 425v16M699 425v13M700 426v19M701 422v23M702 414v21M703 420v14M704 422v25M705 429v13M706 426v27M707 437v12M708 437v13M709 438v14M710 433v32M711 441v15M712 446v10M713 441v18M714 442v28M715 437v22M716 438v20M717 438v21M718 445v29M719 447v12M720 440v28M721 442v23M722 443v18M723 443v39M724 438v26M725 431v20M726 441v14M727 430v21M728 437v22M729 440v23M730 440v18M731 437v18M732 444v21M733 443v18M734 457v14M735 449v19M736 448v20M737 448v25M738 449v27M739 444v21M740 448v33M741 448v18M742 450v19M743 450v32M744 447v14M745 447v18M746 440v31M747 446v23M748 444v27M749 444v20M750 440v30M751 446v18M752 441v20M753 445v14M754 444v17M755 444v28M756 442v15M757 441v16M758 438v18M759 435v18M760 430v21M761 427v22M762 425v24M763 423v25M764 413v24M765 410v24M766 415v21M767 407v23M768 397v33M769 398v33M770 394v15M771 399v29M772 406v22M773 417v32M774 426v18M775 428v32M776 437v23M777 436v30M778 443v43M779 442v22M780 450v17M781 443v40M782 449v32M783 448v21M784 445v52M785 451v19M786 457v28M787 445v55M788 454v38M789 454v33M790 455v54M791 457v30M792 452v37M793 447v37M794 449v42M795 457v40M796 460v23M797 457v51M798 461v35M799 459v42M800 459v22M801 451v33M802 457v26M803 453v38M804 461v32M805 451v39M806 458v29M807 456v43M808 458v31M809 454v43M810 461v38M811 458v39M812 451v46M813 453v44M814 457v42M815 461v40M816 461v31M817 452v49M818 455v38M819 459v35M820 461v27M821 458v27M822 456v37M823 458v50M824 466v41M825 462v38M826 457v44M827 459v30M828 463v34M829 462v45M830 469v30M831 456v39M832 455v36M833 463v28M834 459v39M835 461v41M836 463v40M837 466v35M838 455v45M839 465v36M840 460v51M841 466v32M842 465v48M843 459v34M844 466v48M845 468v38M846 462v34M847 461v46M848 469v34M849 469v33M850 467v46M851 470v32M852 457v46M853 469v32M854 462v41M855 466v30M856 475v31M857 476v33M858 470v38M859 469v40M860 472v30M861 467v44M862 459v47M863 469v34M864 470v44M865 469v41M866 479v34M867 473v41M868 471v43M869 470v40M870 470v37M871 470v42" transform="translate(0.5,0)" fill="none" stroke="#000" stroke-width="1" shape-rendering="crispEdges" clip-path="url(#c1)"/>
<path d="M129.4 134.2 L194.2 142.2 L232.0 151.8 L258.9 142.2 L279.7 144.8 L296.8 153.2 L311.1 153.2 L323.6 148.3 L334.6 139.8 L344.4 137.7 L353.3 161.0 L361.5 173.0 L368.9 184.3 L376.1 193.3 L382.6 214.3 L389.1 217.1 L399.5 204.6 L405.0 215.7 L410.8 228.0 L413.6 230.9 L418.7 226.5 L426.6 245.3 L430.3 244.6 L433.6 231.6 L440.6 248.2 L447.6 239.8 L455.5 259.7 L458.4 260.5 L465.6 275.6 L471.4 293.0 L477.2 278.5 L478.6 282.0 L483.4 258.3 L490.2 269.9 L493.4 285.0 L496.7 264.0 L498.8 261.9 L504.0 264.8 L508.9 252.8 L513.7 265.7 L516.6 256.1 L519.5 257.0 L523.3 273.4 L527.2 235.9 L531.0 237.8 L534.9 229.1 L537.8 216.6 L540.6 221.0 L542.6 234.0" fill="none" stroke="#0000ff" stroke-width="1" shape-rendering="crispEdges" clip-path="url(#c1)"/>
<path d="M542 232v3M543 229v4M544 227v3M545 226v2M546 227v8M547 234v6M548 237v4M549 240v4M550 243v5M551 247v6M552 247v5M553 251v7M554 249v7M555 246v4M556 239v8M557 236v4M558 235v5M559 239v7M560 245v2M561 245v6M562 250v6M563 251v5M564 251v3M565 247v6M566 242v6M567 240v3M568 241v5M569 245v5M570 249v7M571 255v5M572 258v5M573 256v3M574 250v8M575 249v4M576 245v5M577 239v9M578 237v3M579 239v10M580 248v7M581 254v19M582 272v5M583 269v6M584 268v3M585 259v10M586 256v4M587 257v7M588 260v5M589 256v5M590 255v6M591 260v6M592 263v5M593 261v7M594 259v5M595 254v8M596 252v3M597 252v8M598 259v10M599 266v6M600 251v21M601 251v3M602 253v11M603 263v8M604 254v16M605 247v8M606 246v6M607 251v5M608 251v4M609 252v6M610 257v2M611 240v18M612 237v8M613 244v8M614 251v4M615 244v12M616 237v8M617 224v14M618 219v6M619 214v9M620 208v11M621 208v3M622 209v6M623 209v11M624 219v17M625 233v10M626 242v18M627 259v12M628 249v21M629 216v34M630 202v15M631 205v13M632 214v27M633 240v11M634 244v10M635 247v7M636 247v28M637 261v10M638 252v10M639 256v19M640 265v10M641 267v15M642 275v7M643 277v13M644 276v21M645 285v12M646 285v13M647 297v15M648 294v10M649 284v11M650 287v7M651 284v9M652 263v30M653 252v22M654 273v40M655 312v11M656 311v8M657 301v11M658 302v4M659 293v11M660 287v15M661 283v9M662 280v13M663 269v12M664 254v17M665 242v14M666 227v16M667 226v11M668 231v12M669 236v11M670 244v9M671 251v14M672 264v20M673 277v13M674 282v7M675 283v4M676 286v6M677 282v18M678 286v15M679 280v15M680 281v13M681 292v9M682 295v11M683 291v17M684 294v18M685 298v15M686 302v13M687 302v13M688 310v11M689 314v6M690 316v11M691 308v19M692 311v25M693 321v25M694 324v16M695 328v16M696 329v10M697 334v16M698 330v15M699 340v10M700 336v17M701 327v28M702 343v11M703 344v16M704 343v17M705 352v11M706 349v23M707 355v23M708 353v15M709 352v26M710 358v27M711 360v22M712 365v18M713 363v18M714 362v25M715 367v19M716 375v12M717 371v13M718 375v10M719 376v21M720 374v22M721 383v13M722 379v20M723 386v14M724 387v19M725 386v27M726 395v14M727 391v16M728 396v22M729 397v21M730 391v23M731 390v21M732 405v23M733 411v11M734 408v21M735 409v17M736 410v19M737 414v15M738 415v22M739 416v25M740 419v11M741 418v27M742 425v12M743 419v26M744 426v29M745 421v25M746 427v32M747 428v29M748 428v26M749 434v16M750 428v27M751 439v10M752 435v17M753 440v23M754 440v28M755 435v33M756 438v17M757 433v18M758 427v28M759 432v16M760 431v24M761 433v31M762 428v16M763 427v27M764 422v26M765 423v26M766 418v25M767 404v30M768 383v36M769 368v28M770 358v37M771 369v49M772 403v20M773 414v27M774 419v26M775 425v36M776 429v24M777 435v34M778 440v24M779 437v38M780 442v24M781 451v29M782 440v36M783 450v37M784 455v31M785 456v29M786 456v19M787 450v44M788 453v32M789 450v35M790 452v34M791 459v29M792 457v25M793 457v43M794 456v36M795 457v48M796 457v34M797 458v30M798 458v33M799 461v25M800 455v42M801 462v32M802 462v27M803 453v50M804 456v32M805 462v45M806 451v43M807 454v46M808 462v40M809 452v38M810 462v30M811 454v47M812 458v39M813 468v26M814 460v39M815 461v33M816 460v27M817 464v43M818 458v36M819 464v34M820 464v47M821 459v44M822 460v40M823 465v39M824 471v36M825 464v28M826 466v39M827 460v53M828 469v44M829 463v35M830 468v35M831 470v35M832 464v28M833 470v29M834 466v44M835 463v38M836 469v41M837 444v59M838 472v28M839 463v42M840 463v41M841 463v48M842 466v30M843 466v48M844 470v32M845 469v44M846 476v34M847 470v37M848 455v44M849 468v46M850 471v39M851 464v50M852 470v27M853 470v33M854 473v35M855 476v31M856 471v40M857 475v39M858 471v43M859 475v39M860 471v39M861 477v37M862 477v35M863 472v42M864 474v38M865 474v40M866 474v36M867 469v33M868 476v38M869 473v41M870 478v36M871 480v34" transform="translate(0.5,0)" fill="none" stroke="#0000ff" stroke-width="1" shape-rendering="crispEdges" clip-path="url(#c1)"/>
<path d="M1083.2 130.0 L1087.4 152.0 L1094.5 134.3 L1099.2 167.1 L1103.5 195.8 L1108.2 226.9 L1113.6 204.2 L1120.3 196.6 L1127.0 206.7 L1132.1 225.3 L1137.1 223.1 L1142.2 258.1 L1147.3 234.5 L1152.3 249.7 L1161.6 266.5 L1165.5 251.4 L1174.2 289.3 L1178.4 285.9 L1182.3 321.3 L1189.4 293.5 L1193.6 301.9 L1196.6 294.3 L1200.3 320.5 L1206.2 286.8 L1209.6 281.7 L1213.0 287.6 L1218.9 294.3 L1222.2 312.9 L1224.8 286.8 L1227.8 294.3 L1230.3 312.0 L1231.5 295.2 L1233.2 278.3 L1235.4 301.9 L1238.2 297.7 L1241.6 277.5 L1246.7 278.3 L1248.4 276.6 L1250.9 279.2 L1253.4 278.0 L1256.8 271.6 L1260.5 265.7 L1262.7 269.1 L1264.5 268.3 L1266.5 270.2 L1270.3 253.1 L1272.0 254.4 L1277.0 248.0 L1280.4 235.4 L1285.4 225.3 L1288.8 209.2 L1292.4 198.3 L1295.5 193.0 L1296.8 161.2 L1298.5 183.3 L1300.3 197.4 L1304.7 209.7 L1308.2 230.9 L1311.8 238.0 L1313.2 235.3 L1319.7 250.3 L1329.4 260.0 L1336.5 263.6 L1344.4 266.2 L1353.3 260.6 L1355.0 271.5 L1357.1 290.9 L1361.2 283.0 L1371.8 283.9 L1380.6 280.3 L1390.3 276.8 L1397.4 272.4 L1403.6 260.9 L1408.9 250.3 L1412.4 238.0 L1415.9 223.0 L1418.0 221.2 L1421.2 232.7 L1424.7 260.9 L1426.9 294.5 L1427.9 303.3 L1429.2 276.8 L1430.0 248.6 L1431.3 224.7 L1432.7 238.0 L1435.3 264.5 L1438.9 278.6 L1444.2 292.7 L1451.2 306.8 L1456.5 316.5 L1460.0 320.9 L1462.7 319.2 L1463.6 324.5 L1464.1 299.8 L1464.8 275.0 L1466.2 273.3 L1467.1 319.2 L1468.9 333.3 L1470.6 343.0 L1474.2 332.4 L1477.7 322.7 L1481.2 310.3 L1483.9 283.9 L1484.8 254.7 L1485.6 253.9 L1488.3 269.7 L1491.8 273.3 L1494.5 287.4 L1496.8 305.0 L1500.7 312.1 L1506.0 322.7 L1511.5 332.0 L1521.2 347.4 L1530.0 356.2" fill="none" stroke="#0000ff" stroke-width="1" shape-rendering="crispEdges" clip-path="url(#c2)"/>
<path d="M1530 355v4M1531 356v3M1532 358v2M1533 359v2M1534 360v2M1535 361v1M1536 361v3M1537 363v1M1538 363v3M1539 365v3M1540 366v2M1541 367v2M1542 367v4M1543 368v2M1544 369v4M1545 370v3M1546 371v2M1547 372v4M1548 373v3M1549 374v2M1550 375v3M1551 376v3M1552 376v3M1553 377v3M1554 379v3M1555 380v3M1556 381v2M1557 381v4M1558 381v4M1559 383v3M1560 384v4M1561 385v2M1562 385v4M1563 386v3M1564 386v5M1565 387v5M1566 389v1M1567 389v4M1568 390v4M1569 389v8M1570 391v3M1571 392v7M1572 394v3M1573 394v4M1574 394v4M1575 394v8M1576 397v5M1577 397v7M1578 395v8M1579 396v6M1580 396v13M1581 400v16M1582 391v13M1583 391v23M1584 396v28M1585 403v66M1586 390v29M1587 390v30M1588 402v23M1589 410v34M1590 407v37M1591 399v41M1592 399v34M1593 413v36M1594 407v23M1595 395v47M1596 395v55M1597 405v49M1598 409v34M1599 407v99M1600 413v85M1601 413v40M1602 400v41M1603 405v49M1604 404v40M1605 411v41M1606 401v73M1607 398v54M1608 425v58M1609 425v51M1610 424v50M1611 429v85M1612 432v82M1613 405v59M1614 402v78M1615 419v67M1616 428v49M1617 403v96M1618 421v46M1619 420v52M1620 419v76M1621 423v67M1622 422v48M1623 439v75M1624 420v94M1625 415v99M1626 438v76M1627 415v78M1628 417v87M1629 415v75M1630 405v68M1631 409v46M1632 423v28M1633 405v35M1634 398v23M1635 378v39M1636 375v34M1637 371v30M1638 360v31M1639 343v49M1640 336v16M1641 315v30M1642 309v33M1643 317v22M1644 335v35M1645 348v39M1646 364v39M1647 367v37M1648 390v38M1649 389v41M1650 406v33M1651 417v42M1652 390v51M1653 406v103M1654 392v71M1655 395v76M1656 388v81M1657 397v60M1658 398v73M1659 417v60M1660 392v83M1661 381v95M1662 414v66M1663 425v56M1664 398v116M1665 403v46M1666 420v32M1667 397v99M1668 391v93M1669 388v81M1670 391v80M1671 393v63M1672 393v80M1673 418v47M1674 404v65M1675 400v61M1676 415v65M1677 386v83M1678 406v71M1679 396v58M1680 367v93M1681 388v100M1682 408v75M1683 403v62M1684 392v122M1685 402v42M1686 409v48M1687 371v109M1688 400v68M1689 382v131M1690 389v72M1691 389v78M1692 398v30M1693 386v78M1694 366v95M1695 388v74M1696 380v50M1697 390v72M1698 393v66M1699 383v69M1700 381v91M1701 370v90M1702 385v63M1703 365v96M1704 361v67M1705 365v61M1706 374v63M1707 345v104M1708 357v82M1709 368v71M1710 368v83M1711 350v82M1712 350v115M1713 362v104M1714 356v91M1715 369v80M1716 360v82M1717 347v105M1718 380v96M1719 362v74M1720 356v100M1721 367v99M1722 367v72M1723 366v71M1724 343v85M1725 352v78M1726 345v79M1727 350v95M1728 363v107M1729 360v110M1730 349v97M1731 325v112M1732 348v68M1733 335v113M1734 358v81M1735 345v58M1736 330v87M1737 339v89M1738 351v46M1739 344v89M1740 346v76M1741 345v92M1742 336v98M1743 329v119M1744 361v84M1745 338v80M1746 332v71M1747 347v88M1748 338v87M1749 326v99M1750 319v85M1751 331v67M1752 346v51M1753 335v65M1754 320v103M1755 340v64M1756 319v84M1757 323v79M1758 328v68M1759 314v95M1760 330v85M1761 318v60M1762 327v75M1763 334v71M1764 325v83M1765 301v114M1766 321v74M1767 314v90M1768 330v90M1769 309v91M1770 312v97M1771 298v105M1772 321v86M1773 329v79M1774 304v91M1775 296v97M1776 300v214M1777 318v125M1778 311v57M1779 292v85M1780 300v88M1781 293v101M1782 310v91M1783 307v99" transform="translate(0.5,0)" fill="none" stroke="#0000ff" stroke-width="1" shape-rendering="crispEdges" clip-path="url(#c2)"/>
<path d="M1451 312.5H1477" stroke="#0000ff" stroke-width="1" shape-rendering="crispEdges"/>
<path d="M119.5 1017.0 L121.3 1032.8 L124.0 1011.5 L132.5 932.8 L142.4 993.0 L151.0 991.2 L158.8 939.6 L167.1 908.5 L174.6 1013.7 L176.5 1049.0 L182.4 904.7 L192.5 1013.7 L196.3 1048.5 L204.4 1017.0 L208.3 980.0 L213.9 963.8 L217.9 1007.0 L220.5 1040.0 L225.1 983.4 L230.3 1017.0 L235.2 930.1 L240.4 984.0 L249.4 953.0 L251.0 901.3 L253.2 822.2 L255.4 869.9 L258.8 914.8 L264.4 977.8 L266.7 1017.0 L269.0 1050.0 L271.2 1017.0 L272.3 995.7 L275.0 905.8 L276.3 845.2 L277.2 827.2 L281.3 824.5 L284.0 839.6 L285.8 890.0 L287.6 923.8 L288.5 970.6 L290.3 946.3 L292.5 919.3 L294.8 851.9 L297.5 789.0 L299.7 809.2 L301.5 830.6 L304.4 784.9 L307.8 818.2 L310.5 881.1 L312.3 813.7 L313.9 856.4 L315.7 920.4 L318.4 1011.5 L319.9 955.3 L321.7 890.1 L324.0 937.3 L326.7 979.6 L328.2 870.0 L329.0 816.3 L329.9 763.7 L330.7 724.2 L331.5 704.5 L333.2 717.6 L335.6 735.7 L338.4 758.8 L340.6 730.8 L342.2 706.1 L343.9 697.9 L346.3 695.4 L348.8 681.4 L352.1 680.6 L353.7 686.4 L354.9 709.4 L355.9 744.0 L356.5 763.7 L357.5 704.5 L358.7 681.4 L360.8 677.3 L364.4 678.2 L366.9 681.4 L368.5 679.0 L371.0 685.6 L372.6 681.4 L374.0 696.3 L374.6 711.9 L375.9 697.9 L377.2 684.7 L379.2 702.8 L381.2 722.6 L382.2 762.0 L382.8 829.5 L383.7 864.0 L384.5 809.8 L385.5 724.2 L386.3 711.0 L387.4 757.1 L388.4 775.2 L389.1 737.4 L389.9 699.5 L391.6 689.7 L393.7 699.5 L396.0 684.7 L399.3 696.3 L402.2 683.1 L404.2 695.4 L405.5 680.6 L408.8 674.0 L413.8 674.0 L418.7 678.2 L420.7 684.7 L422.8 674.0 L425.3 672.9 L430.2 674.9 L431.9 677.3 L433.5 674.0 L436.8 676.5 L439.3 688.0 L441.7 697.9 L442.6 727.5 L443.4 742.3 L444.2 720.9 L445.0 704.5 L446.7 699.5 L447.5 711.0 L448.3 694.6 L450.0 675.7 L451.3 681.4 L453.2 702.8 L455.2 686.4 L458.2 679.8 L461.5 674.0 L468.0 675.7 L470.5 678.2 L474.6 672.9 L477.9 674.9 L478.4 693.8 L479.1 674.9 L484.5 673.2 L487.8 677.3 L492.7 674.0 L494.4 685.6 L495.2 676.5 L497.7 675.7 L500.1 681.4 L501.0 674.0 L503.4 687.2 L504.2 677.3 L506.7 680.6 L510.8 675.7 L513.3 684.7 L514.9 706.1 L516.1 744.0 L517.1 768.6 L517.7 796.6 L518.4 846.8 L519.0 768.6 L519.4 716.0 L519.9 686.4 L521.5 674.9 L523.2 679.0 L527.3 673.2 L528.6 680.6 L529.7 674.0 L537.1 673.2 L540.4 675.7 L543.7 673.2 L544.5 680.6 L546.2 674.0 L550.3 674.0 L551.6 683.1 L552.3 722.6 L552.9 758.8 L553.4 806.5 L554.1 757.1 L555.2 714.3 L556.0 686.4 L557.5 700.8 L558.6 681.3 L561.3 692.0 L562.3 679.0 L563.4 687.8 L564.5 674.8 L566.7 682.3 L569.9 674.8 L572.0 682.3 L572.6 714.8 L573.4 697.5 L574.3 682.3 L576.4 673.7 L579.7 680.7 L580.8 674.2 L588.3 673.1 L601.4 673.1 L605.7 675.8 L608.4 687.8 L610.0 675.8 L612.2 673.1 L631.7 673.0 L639.3 673.7 L640.4 679.6 L642.5 674.2 L646.9 683.4 L649.0 675.8 L652.3 681.8 L654.4 673.7 L657.7 675.8" fill="none" stroke="#0000ff" stroke-width="1" shape-rendering="crispEdges" clip-path="url(#c3)"/>
<path d="M657 675v26M658 679v55M659 678v23M660 680v22M661 683v19M662 685v21M663 676v26M664 674v28M665 690v38M666 674v31M667 679v22M668 675v23M669 677v17M670 682v103M671 784v69M672 798v30M673 765v291M674 737v117M675 742v99M676 705v91M677 705v122M678 731v24M679 700v58M680 689v86M681 704v72M682 700v87M683 729v34M684 693v60M685 686v66M686 697v33M687 713v61M688 706v71M689 714v95M690 708v52M691 691v59M692 685v63M693 730v141M694 725v155M695 711v285M696 741v127M697 751v169M698 721v309M699 717v252M700 737v182M701 721v246M702 710v292M703 867v174M704 848v181M705 763v293M706 881v161M707 710v321M708 851v155M709 881v150M710 745v250M711 842v214M712 860v191M713 787v267M714 802v230M715 861v168M716 902v139M717 841v188M718 867v142M719 829v218M720 871v172M721 864v166M722 736v305M723 964v76M724 813v219M725 820v195M726 809v242M727 785v213M728 841v172M729 901v148M730 757v292M731 870v181M732 824v218M733 850v193M734 904v127M735 794v251M736 794v228M737 822v198M738 910v118M739 830v222M740 929v124M741 872v176M742 855v201M743 994v40M744 901v135M745 844v196M746 872v181M747 813v243M748 891v161M749 939v109M750 965v89M751 921v126M752 882v160M753 823v206M754 876v163M755 951v104M756 940v107M757 774v281M758 930v125M759 881v166M760 777v278M761 850v202M762 888v168M763 841v214M764 896v143M765 861v194M766 923v128M767 819v216M768 923v113M769 863v180M770 879v175M771 881v165M772 886v150M773 795v248M774 844v209M775 767v286M776 831v220M777 895v159M778 903v143M779 852v203M780 867v185M781 758v297M782 919v118M783 909v147M784 925v128M785 892v157M786 812v239M787 844v212M788 894v156M789 853v202M790 902v136M791 777v266M792 825v229M793 935v113M794 827v221M795 893v143M796 781v264M797 765v289M798 941v113M799 842v208M800 847v205M801 893v162M802 881v146M803 859v190M804 818v231M805 817v194M806 864v184M807 843v213M808 853v186M809 829v223M810 830v225M811 910v143M812 799v257M813 907v149M814 914v142M815 866v181M816 840v212M817 877v175M818 808v245M819 785v264M820 747v306M821 815v226M822 774v266M823 885v167M824 868v182M825 892v157M826 758v297M827 860v192M828 844v210M829 863v179M830 866v173M831 786v254M832 835v221M833 798v258M834 825v228M835 866v187M836 768v287M837 835v221M838 836v213M839 794v256M840 872v184M841 799v250M842 855v201M843 872v183M844 798v247M845 824v227M846 853v200M847 751v297M848 880v164M849 858v192M850 772v278M851 789v264M852 885v162M853 821v229M854 801v252M855 852v198M856 755v294M857 885v170M858 858v198M859 756v290M860 791v256M861 915v141M862 848v208M863 911v145M864 819v237M865 834v221M866 801v248M867 799v257M868 860v195M869 876v174M870 799v252M871 793v261" transform="translate(0.5,0)" fill="none" stroke="#0000ff" stroke-width="1" shape-rendering="crispEdges" clip-path="url(#c3)"/>
<path d="M1031.8 952.9 L1033.7 942.4 L1043.9 956.7 L1054.0 964.6 L1056.5 886.9 L1059.7 791.8 L1063.5 687.2 L1066.0 791.8 L1068.6 886.9 L1071.4 991.6 L1075.6 963.0 L1079.4 946.5 L1087.3 977.3 L1091.4 886.9 L1094.6 846.7 L1101.6 877.4 L1105.7 791.8 L1108.5 731.6 L1111.1 855.2 L1113.0 944.0 L1115.2 1017.0 L1117.5 1040.0 L1120.0 1017.0 L1122.2 950.4 L1124.1 855.2 L1126.3 803.5 L1129.5 842.5 L1132.6 880.6 L1137.4 813.4 L1142.8 825.1 L1146.9 822.9 L1152.3 842.5 L1156.4 886.9 L1161.2 950.4 L1165.3 974.1 L1169.7 944.0 L1174.5 915.5 L1176.4 823.5 L1178.6 704.6 L1180.2 823.5 L1181.8 982.0 L1182.4 1017.0 L1183.2 1040.0 L1184.0 982.0 L1185.6 915.5 L1189.1 901.2 L1191.3 934.5 L1194.5 966.2 L1197.0 994.7 L1198.6 1017.0 L1200.2 1051.0 L1202.4 1017.0 L1204.6 982.0 L1209.4 947.2 L1213.5 974.1 L1216.7 945.6 L1219.3 946.5 L1222.0 971.0 L1224.6 952.6 L1227.7 966.2 L1230.9 991.6 L1235.7 955.1 L1243.6 960.5 L1248.4 971.0 L1250.0 964.6 L1253.8 976.4 L1260.4 957.3 L1265.8 963.0 L1269.0 959.9 L1273.7 968.4 L1280.1 963.7 L1285.5 974.1 L1291.2 982.0 L1293.7 988.4 L1295.3 1012.2 L1295.9 864.7 L1296.6 722.7 L1299.1 733.2 L1302.3 747.4 L1306.6 771.2 L1310.4 765.9 L1313.5 768.1 L1316.1 760.1 L1317.7 769.7 L1323.1 765.9 L1332.6 764.9 L1338.9 769.0 L1345.3 769.7 L1350.0 776.0 L1352.6 791.9 L1354.8 817.2 L1356.4 833.1 L1357.9 804.6 L1359.5 779.2 L1363.7 768.1 L1366.8 774.4 L1370.6 757.9 L1372.2 767.1 L1383.3 769.7 L1389.7 764.9 L1396.0 769.7 L1403.9 768.1 L1408.7 774.4 L1411.9 785.5 L1415.0 804.6 L1416.6 836.3 L1418.8 871.2 L1421.4 899.7 L1423.9 918.7 L1426.1 899.7 L1427.7 855.3 L1428.7 810.9 L1429.9 807.7 L1430.9 880.7 L1432.5 928.2 L1435.7 939.3 L1440.4 944.7 L1446.8 948.9 L1453.1 954.3 L1457.9 960.0 L1462.6 963.1 L1464.2 982.2 L1465.1 1012.3 L1465.5 823.6 L1465.8 687.8 L1467.4 728.4 L1469.0 747.5 L1472.1 763.3 L1474.7 782.3 L1476.9 788.0 L1480.0 780.8 L1483.9 770.6 L1484.8 801.4 L1486.4 855.3 L1489.6 896.5 L1491.8 918.7 L1493.7 950.4 L1495.9 960.0 L1499.1 956.1 L1507.0 969.5 L1519.7 982.2 L1532.4 988.5 L1545.0 996.4 L1554.6 1001.2 L1564.1 1009.1 L1573.6 1013.9 L1580.0 1015.5 L1583.1 1001.0 L1585.7 864.8 L1586.3 672.9 L1586.6 1055.0 L1587.0 672.9 L1587.3 1055.0 L1587.9 1001.0 L1589.5 1017.0 L1592.6 1010.7 L1596.0 1016.0 L1599.0 1017.0 L1599.3 673.0 L1599.6 1055.0 L1600.0 1017.0 L1603.0 1012.0 L1605.0 1017.0" fill="none" stroke="#0000ff" stroke-width="1" shape-rendering="crispEdges" clip-path="url(#c4)"/>
<path d="M1605 718v300M1606 703v173M1607 767v227M1608 752v186M1609 801v119M1610 722v180M1611 711v332M1612 674v345M1613 690v364M1614 702v300M1615 758v265M1616 688v330M1617 676v350M1618 692v254M1619 706v232M1620 698v202M1621 734v292M1622 730v247M1623 747v309M1624 673v370M1625 838v187M1626 699v268M1627 719v302M1628 727v253M1629 737v251M1630 754v203M1631 755v296M1632 705v208M1633 822v223M1634 701v225M1635 688v203M1636 757v85M1637 680v359M1638 673v329M1639 709v299M1640 746v235M1641 743v243M1642 679v319M1643 676v280M1644 679v246M1645 738v296M1646 698v161M1647 690v223M1648 675v375M1649 733v306M1650 743v301M1651 813v210M1652 694v168M1653 675v357M1654 694v226M1655 728v255M1656 788v229M1657 737v184M1658 687v244M1659 674v285M1660 673v340M1661 680v313M1662 823v158M1663 705v321M1664 683v268M1665 673v366M1666 682v366M1667 698v221M1668 759v295M1669 701v353M1670 706v343M1671 740v312M1672 729v225M1673 702v340M1674 698v350M1675 766v229M1676 791v259M1677 673v382M1678 675v356M1679 710v260M1680 673v339M1681 697v329M1682 813v236M1683 742v310M1684 700v347M1685 697v354M1686 683v297M1687 719v337M1688 715v339M1689 679v376M1690 684v326M1691 783v152M1692 711v310M1693 713v302M1694 711v318M1695 768v250M1696 708v319M1697 707v313M1698 716v316M1699 685v327M1700 681v322M1701 689v271M1702 701v280M1703 700v338M1704 756v252M1705 735v267M1706 677v308M1707 719v272M1708 679v332M1709 681v362M1710 683v317M1711 728v195M1712 696v338M1713 682v359M1714 731v271M1715 689v340M1716 690v340M1717 691v305M1718 692v356M1719 730v323M1720 673v378M1721 691v338M1722 737v257M1723 680v357M1724 684v333M1725 674v219M1726 735v290M1727 697v283M1728 715v321M1729 707v325M1730 737v284M1731 725v322M1732 698v279M1733 679v364M1734 776v224M1735 705v339M1736 705v348M1737 676v376M1738 680v289M1739 673v359M1740 728v324M1741 674v379M1742 692v361M1743 700v273M1744 699v315M1745 681v337M1746 712v306M1747 689v348M1748 688v352M1749 714v312M1750 674v374M1751 708v316M1752 727v319M1753 694v308M1754 674v363M1755 682v365M1756 676v379M1757 722v332M1758 677v348M1759 698v355M1760 680v309M1761 688v359M1762 739v314M1763 680v343M1764 690v292M1765 692v343M1766 694v357M1767 685v351M1768 684v365M1769 684v361M1770 693v350M1771 705v337M1772 688v328M1773 684v372M1774 673v349M1775 708v334M1776 678v369M1777 720v329M1778 687v364M1779 707v330M1780 684v371M1781 676v346M1782 679v306M1783 688v363" transform="translate(0.5,0)" fill="none" stroke="#0000ff" stroke-width="1" shape-rendering="crispEdges" clip-path="url(#c4)"/>
<rect x="119.5" y="130.5" width="752" height="384" fill="none" stroke="#000" stroke-width="1" shape-rendering="crispEdges"/>
<rect x="1031.5" y="130.5" width="752" height="384" fill="none" stroke="#000" stroke-width="1" shape-rendering="crispEdges"/>
<rect x="119.5" y="672.5" width="752" height="384" fill="none" stroke="#000" stroke-width="1" shape-rendering="crispEdges"/>
<rect x="1031.5" y="672.5" width="752" height="384" fill="none" stroke="#000" stroke-width="1" shape-rendering="crispEdges"/>
<text x="112.5" y="177.5" font-size="20.5" text-anchor="end">10<tspan dy="-9.5" font-size="13"><tspan font-weight="normal">−</tspan>6</tspan></text>
<text x="112.5" y="244.5" font-size="20.5" text-anchor="end">10<tspan dy="-9.5" font-size="13"><tspan font-weight="normal">−</tspan>7</tspan></text>
<text x="112.5" y="311.5" font-size="20.5" text-anchor="end">10<tspan dy="-9.5" font-size="13"><tspan font-weight="normal">−</tspan>8</tspan></text>
<text x="112.5" y="379.5" font-size="20.5" text-anchor="end">10<tspan dy="-9.5" font-size="13"><tspan font-weight="normal">−</tspan>9</tspan></text>
<text x="112.5" y="446.5" font-size="20.5" text-anchor="end">10<tspan dy="-9.5" font-size="13"><tspan font-weight="normal">−</tspan>10</tspan></text>
<text x="112.5" y="513.5" font-size="20.5" text-anchor="end">10<tspan dy="-9.5" font-size="13"><tspan font-weight="normal">−</tspan>11</tspan></text>
<text x="153.0" y="541.0" font-size="20.5" text-anchor="middle">10<tspan dy="-9.5" font-size="13"><tspan font-weight="normal">−</tspan>2</tspan></text>
<text x="368.0" y="541.0" font-size="20.5" text-anchor="middle">10<tspan dy="-9.5" font-size="13"><tspan font-weight="normal">−</tspan>1</tspan></text>
<text x="583" y="541" font-size="20.5" text-anchor="middle">1</text>
<text x="797.5" y="541" font-size="20.5" text-anchor="middle">10</text>
<text x="1027.5" y="138" font-size="20.5" text-anchor="end"><tspan font-weight="normal">−</tspan>20</text>
<text x="1027.5" y="176" font-size="20.5" text-anchor="end"><tspan font-weight="normal">−</tspan>30</text>
<text x="1027.5" y="215" font-size="20.5" text-anchor="end"><tspan font-weight="normal">−</tspan>40</text>
<text x="1027.5" y="253" font-size="20.5" text-anchor="end"><tspan font-weight="normal">−</tspan>50</text>
<text x="1027.5" y="291" font-size="20.5" text-anchor="end"><tspan font-weight="normal">−</tspan>60</text>
<text x="1027.5" y="330" font-size="20.5" text-anchor="end"><tspan font-weight="normal">−</tspan>70</text>
<text x="1027.5" y="368" font-size="20.5" text-anchor="end"><tspan font-weight="normal">−</tspan>80</text>
<text x="1027.5" y="407" font-size="20.5" text-anchor="end"><tspan font-weight="normal">−</tspan>90</text>
<text x="1027.5" y="445" font-size="20.5" text-anchor="end"><tspan font-weight="normal">−</tspan>100</text>
<text x="1027.5" y="483" font-size="20.5" text-anchor="end"><tspan font-weight="normal">−</tspan>110</text>
<text x="1027.5" y="522" font-size="20.5" text-anchor="end"><tspan font-weight="normal">−</tspan>120</text>
<text x="115.5" y="1064" font-size="20.5" text-anchor="end">0</text>
<text x="115.5" y="1025" font-size="20.5" text-anchor="end">0.1</text>
<text x="115.5" y="987" font-size="20.5" text-anchor="end">0.2</text>
<text x="115.5" y="949" font-size="20.5" text-anchor="end">0.3</text>
<text x="115.5" y="910" font-size="20.5" text-anchor="end">0.4</text>
<text x="115.5" y="872" font-size="20.5" text-anchor="end">0.5</text>
<text x="115.5" y="833" font-size="20.5" text-anchor="end">0.6</text>
<text x="115.5" y="795" font-size="20.5" text-anchor="end">0.7</text>
<text x="115.5" y="757" font-size="20.5" text-anchor="end">0.8</text>
<text x="115.5" y="718" font-size="20.5" text-anchor="end">0.9</text>
<text x="115.5" y="680" font-size="20.5" text-anchor="end">1</text>
<text x="1027.5" y="1032" font-size="20.5" text-anchor="end"><tspan font-weight="normal">−</tspan>150</text>
<text x="1027.5" y="978" font-size="20.5" text-anchor="end"><tspan font-weight="normal">−</tspan>100</text>
<text x="1027.5" y="925" font-size="20.5" text-anchor="end"><tspan font-weight="normal">−</tspan>50</text>
<text x="1027.5" y="872" font-size="20.5" text-anchor="end">0</text>
<text x="1027.5" y="819" font-size="20.5" text-anchor="end">50</text>
<text x="1027.5" y="765" font-size="20.5" text-anchor="end">100</text>
<text x="1027.5" y="712" font-size="20.5" text-anchor="end">150</text>
<text x="1031.5" y="541.0" font-size="20.5" text-anchor="middle">10<tspan dy="-9.5" font-size="13"><tspan font-weight="normal">−</tspan>1</tspan></text>
<text x="1358" y="541" font-size="20.5" text-anchor="middle">1</text>
<text x="1685.5" y="541" font-size="20.5" text-anchor="middle">10</text>
<text x="119.5" y="1083.0" font-size="20.5" text-anchor="middle">10<tspan dy="-9.5" font-size="13"><tspan font-weight="normal">−</tspan>1</tspan></text>
<text x="446" y="1083" font-size="20.5" text-anchor="middle">1</text>
<text x="773.5" y="1083" font-size="20.5" text-anchor="middle">10</text>
<text x="1031.5" y="1083.0" font-size="20.5" text-anchor="middle">10<tspan dy="-9.5" font-size="13"><tspan font-weight="normal">−</tspan>1</tspan></text>
<text x="1358" y="1083" font-size="20.5" text-anchor="middle">1</text>
<text x="1685.5" y="1083" font-size="20.5" text-anchor="middle">10</text>
<text x="494.5" y="570" font-size="20.8" text-anchor="middle">Frequency (Hz)</text>
<text x="1406.5" y="570" font-size="20.8" text-anchor="middle">Frequency (Hz)</text>
<text x="494.5" y="1112" font-size="20.8" text-anchor="middle">Frequency (Hz)</text>
<text x="1406.5" y="1112" font-size="20.8" text-anchor="middle">Frequency (Hz)</text>
<text transform="translate(66.5,322) rotate(-90)" font-size="22" text-anchor="middle">Magnitude (nm/Hz<tspan dy="-11" font-size="14">1/2</tspan><tspan dy="11">)</tspan></text>
<text transform="translate(976,322) rotate(-90)" font-size="22" text-anchor="middle">Magnitude (dB)</text>
<text transform="translate(66.5,864) rotate(-90)" font-size="22" text-anchor="middle">Coherence</text>
<text transform="translate(976,864) rotate(-90)" font-size="22" text-anchor="middle">Phase (deg)</text>
<text x="48" y="605" font-size="20.5" fill="#0000ff" textLength="227.5" lengthAdjust="spacingAndGlyphs">*T0=15/07/2024 12:20:17</text>
<text x="443.5" y="605" font-size="20.5" textLength="59.5" lengthAdjust="spacingAndGlyphs">Avg=5</text>
<text x="760" y="605" font-size="20.5" textLength="139" lengthAdjust="spacingAndGlyphs">BW=0.0117187</text>
<text x="960" y="605" font-size="20.5" fill="#000" textLength="219.6" lengthAdjust="spacingAndGlyphs">T0=15/07/2024 12:20:17</text>
<text x="1355.5" y="605" font-size="20.5" textLength="59.5" lengthAdjust="spacingAndGlyphs">Avg=5</text>
<text x="1672" y="605" font-size="20.5" textLength="139" lengthAdjust="spacingAndGlyphs">BW=0.0117187</text>
<text x="48" y="1147" font-size="20.5" fill="#000" textLength="219.6" lengthAdjust="spacingAndGlyphs">T0=15/07/2024 12:20:17</text>
<text x="443.5" y="1147" font-size="20.5" textLength="59.5" lengthAdjust="spacingAndGlyphs">Avg=5</text>
<text x="760" y="1147" font-size="20.5" textLength="139" lengthAdjust="spacingAndGlyphs">BW=0.0117187</text>
<text x="960" y="1147" font-size="20.5" fill="#000" textLength="219.6" lengthAdjust="spacingAndGlyphs">T0=15/07/2024 12:20:17</text>
<text x="1355.5" y="1147" font-size="20.5" textLength="59.5" lengthAdjust="spacingAndGlyphs">Avg=5</text>
<text x="1672" y="1147" font-size="20.5" textLength="139" lengthAdjust="spacingAndGlyphs">BW=0.0117187</text>
<rect x="37" y="82" width="334" height="26" fill="#000"/>
<rect x="39.5" y="79.5" width="336" height="27" fill="#f2f2f2" stroke="#000" stroke-width="1"/>
<text x="206.5" y="98" font-size="21.1" text-anchor="middle">Power spectrum</text>
<rect x="949" y="82" width="352" height="26" fill="#000"/>
<rect x="951.5" y="79.5" width="354" height="27" fill="#f2f2f2" stroke="#000" stroke-width="1"/>
<text x="1128" y="100" font-size="21.1" text-anchor="middle">Transfer function</text>
<rect x="37" y="624" width="227" height="26" fill="#000"/>
<rect x="39.5" y="621.5" width="229" height="27" fill="#f2f2f2" stroke="#000" stroke-width="1"/>
<text x="154" y="642" font-size="21.1" text-anchor="middle">Coherence</text>
<rect x="949" y="624" width="352" height="26" fill="#000"/>
<rect x="951.5" y="621.5" width="354" height="27" fill="#f2f2f2" stroke="#000" stroke-width="1"/>
<text x="1128" y="642" font-size="21.1" text-anchor="middle">Transfer function</text>
<rect x="142" y="459" width="301" height="48" fill="#000"/>
<rect x="137.5" y="453.5" width="302" height="50" fill="#fff" stroke="#000" stroke-width="1"/>
<line x1="148" y1="466.5" x2="201" y2="466.5" stroke="#0000ff" shape-rendering="crispEdges"/>
<line x1="148" y1="490.5" x2="201" y2="490.5" stroke="#000" shape-rendering="crispEdges"/>
<text x="212.5" y="471" font-size="12">K1:LSC-ALS_DARM_OUT_DQ(REF10)</text>
<text x="212.5" y="495.5" font-size="12">K1:LSC-ALS_DARM_OUT_DQ(REF6)</text>
<rect x="1054" y="481" width="652" height="25" fill="#000"/>
<rect x="1049.5" y="475.5" width="653" height="27" fill="#fff" stroke="#000" stroke-width="1"/>
<line x1="1073" y1="489.5" x2="1188" y2="489.5" stroke="#0000ff" shape-rendering="crispEdges"/>
<text x="1212.5" y="493.5" font-size="12">K1:LSC-ALS_DARM_OUT_DQ(REF11) / K1:VIS-ETMX_IM_LOCK_L_EXC(REF11)</text>
<rect x="142" y="1023" width="652" height="25" fill="#000"/>
<rect x="137.5" y="1017.5" width="653" height="27" fill="#fff" stroke="#000" stroke-width="1"/>
<line x1="161" y1="1031.5" x2="276" y2="1031.5" stroke="#0000ff" shape-rendering="crispEdges"/>
<text x="300" y="1035" font-size="12">K1:LSC-ALS_DARM_OUT_DQ(REF12) / K1:VIS-ETMX_IM_LOCK_L_EXC(REF12)</text>
<rect x="1117" y="1023" width="652" height="25" fill="#000"/>
<rect x="1112.5" y="1017.5" width="653" height="27" fill="#fff" stroke="#000" stroke-width="1"/>
<line x1="1136" y1="1031.5" x2="1251" y2="1031.5" stroke="#0000ff" shape-rendering="crispEdges"/>
<text x="1275" y="1035" font-size="12">K1:LSC-ALS_DARM_OUT_DQ(REF11) / K1:VIS-ETMX_IM_LOCK_L_EXC(REF11)</text>
</svg>
</body></html>
